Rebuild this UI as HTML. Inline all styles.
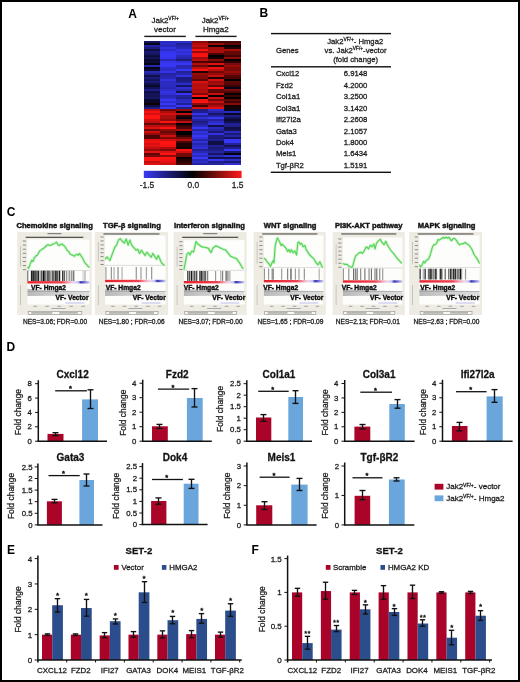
<!DOCTYPE html>
<html><head><meta charset="utf-8"><style>
html,body{margin:0;padding:0;background:#fff;}
body{width:520px;height:682px;overflow:hidden;}
svg{display:block;filter:blur(0.3px);}
text{stroke:#1a1a1a;stroke-width:0.28px;}
text.ns{stroke:none;}
</style></head><body>
<svg width="520" height="682" viewBox="0 0 520 682">
<rect width="520" height="682" fill="#fff"/>
<rect x="1" y="1" width="518" height="680" fill="none" stroke="#000" stroke-width="2"/>
<text x="128.3" y="17.7" font-family="Liberation Sans" font-size="12" font-weight="bold" fill="#000" class="ns">A</text>
<text x="259.6" y="17.2" font-family="Liberation Sans" font-size="12" font-weight="bold" fill="#000" class="ns">B</text>
<text x="6.8" y="215.8" font-family="Liberation Sans" font-size="12" font-weight="bold" fill="#000" class="ns">C</text>
<text x="6.6" y="351.3" font-family="Liberation Sans" font-size="12" font-weight="bold" fill="#000" class="ns">D</text>
<text x="6.9" y="554.3" font-family="Liberation Sans" font-size="12" font-weight="bold" fill="#000" class="ns">E</text>
<text x="251.4" y="554.3" font-family="Liberation Sans" font-size="12" font-weight="bold" fill="#000" class="ns">F</text>
<g shape-rendering="crispEdges">
<rect x="143.5" y="40.5" width="16.43" height="2.31" fill="rgb(21, 21, 94)"/>
<rect x="159.63" y="40.5" width="16.43" height="2.31" fill="rgb(43, 43, 195)"/>
<rect x="175.77" y="40.5" width="16.43" height="2.31" fill="rgb(46, 46, 207)"/>
<rect x="191.9" y="40.5" width="16.43" height="2.31" fill="rgb(140, 10, 10)"/>
<rect x="208.03" y="40.5" width="16.43" height="2.31" fill="rgb(64, 5, 5)"/>
<rect x="224.17" y="40.5" width="16.43" height="2.31" fill="rgb(70, 5, 5)"/>
<rect x="143.5" y="42.51" width="16.43" height="2.31" fill="rgb(6, 6, 27)"/>
<rect x="159.63" y="42.51" width="16.43" height="2.31" fill="rgb(44, 44, 198)"/>
<rect x="175.77" y="42.51" width="16.43" height="2.31" fill="rgb(32, 32, 145)"/>
<rect x="191.9" y="42.51" width="16.43" height="2.31" fill="rgb(178, 13, 13)"/>
<rect x="208.03" y="42.51" width="16.43" height="2.31" fill="rgb(154, 12, 12)"/>
<rect x="224.17" y="42.51" width="16.43" height="2.31" fill="rgb(97, 7, 7)"/>
<rect x="143.5" y="44.53" width="16.43" height="2.31" fill="rgb(36, 36, 163)"/>
<rect x="159.63" y="44.53" width="16.43" height="2.31" fill="rgb(41, 41, 184)"/>
<rect x="175.77" y="44.53" width="16.43" height="2.31" fill="rgb(38, 38, 171)"/>
<rect x="191.9" y="44.53" width="16.43" height="2.31" fill="rgb(195, 15, 15)"/>
<rect x="208.03" y="44.53" width="16.43" height="2.31" fill="rgb(12, 0, 0)"/>
<rect x="224.17" y="44.53" width="16.43" height="2.31" fill="rgb(2, 2, 9)"/>
<rect x="143.5" y="46.54" width="16.43" height="2.31" fill="rgb(28, 28, 125)"/>
<rect x="159.63" y="46.54" width="16.43" height="2.31" fill="rgb(51, 51, 227)"/>
<rect x="175.77" y="46.54" width="16.43" height="2.31" fill="rgb(40, 40, 181)"/>
<rect x="191.9" y="46.54" width="16.43" height="2.31" fill="rgb(158, 12, 12)"/>
<rect x="208.03" y="46.54" width="16.43" height="2.31" fill="rgb(162, 12, 12)"/>
<rect x="224.17" y="46.54" width="16.43" height="2.31" fill="rgb(41, 3, 3)"/>
<rect x="143.5" y="48.56" width="16.43" height="2.31" fill="rgb(14, 14, 66)"/>
<rect x="159.63" y="48.56" width="16.43" height="2.31" fill="rgb(44, 44, 199)"/>
<rect x="175.77" y="48.56" width="16.43" height="2.31" fill="rgb(51, 51, 228)"/>
<rect x="191.9" y="48.56" width="16.43" height="2.31" fill="rgb(255, 20, 20)"/>
<rect x="208.03" y="48.56" width="16.43" height="2.31" fill="rgb(165, 12, 12)"/>
<rect x="224.17" y="48.56" width="16.43" height="2.31" fill="rgb(166, 13, 13)"/>
<rect x="143.5" y="50.57" width="16.43" height="2.31" fill="rgb(25, 25, 112)"/>
<rect x="159.63" y="50.57" width="16.43" height="2.31" fill="rgb(53, 53, 236)"/>
<rect x="175.77" y="50.57" width="16.43" height="2.31" fill="rgb(47, 47, 212)"/>
<rect x="191.9" y="50.57" width="16.43" height="2.31" fill="rgb(154, 12, 12)"/>
<rect x="208.03" y="50.57" width="16.43" height="2.31" fill="rgb(170, 13, 13)"/>
<rect x="224.17" y="50.57" width="16.43" height="2.31" fill="rgb(101, 7, 7)"/>
<rect x="143.5" y="52.59" width="16.43" height="2.31" fill="rgb(23, 23, 103)"/>
<rect x="159.63" y="52.59" width="16.43" height="2.31" fill="rgb(54, 54, 243)"/>
<rect x="175.77" y="52.59" width="16.43" height="2.31" fill="rgb(49, 49, 221)"/>
<rect x="191.9" y="52.59" width="16.43" height="2.31" fill="rgb(244, 19, 19)"/>
<rect x="208.03" y="52.59" width="16.43" height="2.31" fill="rgb(72, 5, 5)"/>
<rect x="224.17" y="52.59" width="16.43" height="2.31" fill="rgb(101, 7, 7)"/>
<rect x="143.5" y="54.6" width="16.43" height="2.31" fill="rgb(13, 13, 60)"/>
<rect x="159.63" y="54.6" width="16.43" height="2.31" fill="rgb(55, 55, 245)"/>
<rect x="175.77" y="54.6" width="16.43" height="2.31" fill="rgb(43, 43, 193)"/>
<rect x="191.9" y="54.6" width="16.43" height="2.31" fill="rgb(250, 19, 19)"/>
<rect x="208.03" y="54.6" width="16.43" height="2.31" fill="rgb(0, 0, 2)"/>
<rect x="224.17" y="54.6" width="16.43" height="2.31" fill="rgb(63, 4, 4)"/>
<rect x="143.5" y="56.62" width="16.43" height="2.31" fill="rgb(19, 19, 86)"/>
<rect x="159.63" y="56.62" width="16.43" height="2.31" fill="rgb(53, 53, 239)"/>
<rect x="175.77" y="56.62" width="16.43" height="2.31" fill="rgb(38, 38, 171)"/>
<rect x="191.9" y="56.62" width="16.43" height="2.31" fill="rgb(157, 12, 12)"/>
<rect x="208.03" y="56.62" width="16.43" height="2.31" fill="rgb(27, 2, 2)"/>
<rect x="224.17" y="56.62" width="16.43" height="2.31" fill="rgb(141, 11, 11)"/>
<rect x="143.5" y="58.63" width="16.43" height="2.31" fill="rgb(10, 10, 48)"/>
<rect x="159.63" y="58.63" width="16.43" height="2.31" fill="rgb(40, 40, 181)"/>
<rect x="175.77" y="58.63" width="16.43" height="2.31" fill="rgb(28, 28, 125)"/>
<rect x="191.9" y="58.63" width="16.43" height="2.31" fill="rgb(186, 14, 14)"/>
<rect x="208.03" y="58.63" width="16.43" height="2.31" fill="rgb(135, 10, 10)"/>
<rect x="224.17" y="58.63" width="16.43" height="2.31" fill="rgb(0, 0, 0)"/>
<rect x="143.5" y="60.65" width="16.43" height="2.31" fill="rgb(11, 11, 51)"/>
<rect x="159.63" y="60.65" width="16.43" height="2.31" fill="rgb(52, 52, 232)"/>
<rect x="175.77" y="60.65" width="16.43" height="2.31" fill="rgb(48, 48, 218)"/>
<rect x="191.9" y="60.65" width="16.43" height="2.31" fill="rgb(75, 5, 5)"/>
<rect x="208.03" y="60.65" width="16.43" height="2.31" fill="rgb(61, 4, 4)"/>
<rect x="224.17" y="60.65" width="16.43" height="2.31" fill="rgb(48, 3, 3)"/>
<rect x="143.5" y="62.66" width="16.43" height="2.31" fill="rgb(4, 4, 18)"/>
<rect x="159.63" y="62.66" width="16.43" height="2.31" fill="rgb(55, 55, 245)"/>
<rect x="175.77" y="62.66" width="16.43" height="2.31" fill="rgb(55, 55, 245)"/>
<rect x="191.9" y="62.66" width="16.43" height="2.31" fill="rgb(177, 13, 13)"/>
<rect x="208.03" y="62.66" width="16.43" height="2.31" fill="rgb(225, 17, 17)"/>
<rect x="224.17" y="62.66" width="16.43" height="2.31" fill="rgb(124, 9, 9)"/>
<rect x="143.5" y="64.68" width="16.43" height="2.31" fill="rgb(39, 39, 174)"/>
<rect x="159.63" y="64.68" width="16.43" height="2.31" fill="rgb(55, 55, 245)"/>
<rect x="175.77" y="64.68" width="16.43" height="2.31" fill="rgb(40, 40, 178)"/>
<rect x="191.9" y="64.68" width="16.43" height="2.31" fill="rgb(111, 8, 8)"/>
<rect x="208.03" y="64.68" width="16.43" height="2.31" fill="rgb(51, 4, 4)"/>
<rect x="224.17" y="64.68" width="16.43" height="2.31" fill="rgb(151, 11, 11)"/>
<rect x="143.5" y="66.69" width="16.43" height="2.31" fill="rgb(6, 6, 27)"/>
<rect x="159.63" y="66.69" width="16.43" height="2.31" fill="rgb(46, 46, 207)"/>
<rect x="175.77" y="66.69" width="16.43" height="2.31" fill="rgb(41, 41, 183)"/>
<rect x="191.9" y="66.69" width="16.43" height="2.31" fill="rgb(191, 14, 14)"/>
<rect x="208.03" y="66.69" width="16.43" height="2.31" fill="rgb(235, 18, 18)"/>
<rect x="224.17" y="66.69" width="16.43" height="2.31" fill="rgb(127, 9, 9)"/>
<rect x="143.5" y="68.71" width="16.43" height="2.31" fill="rgb(12, 12, 56)"/>
<rect x="159.63" y="68.71" width="16.43" height="2.31" fill="rgb(43, 43, 194)"/>
<rect x="175.77" y="68.71" width="16.43" height="2.31" fill="rgb(55, 55, 245)"/>
<rect x="191.9" y="68.71" width="16.43" height="2.31" fill="rgb(248, 19, 19)"/>
<rect x="208.03" y="68.71" width="16.43" height="2.31" fill="rgb(192, 15, 15)"/>
<rect x="224.17" y="68.71" width="16.43" height="2.31" fill="rgb(121, 9, 9)"/>
<rect x="143.5" y="70.72" width="16.43" height="2.31" fill="rgb(40, 40, 178)"/>
<rect x="159.63" y="70.72" width="16.43" height="2.31" fill="rgb(52, 52, 233)"/>
<rect x="175.77" y="70.72" width="16.43" height="2.31" fill="rgb(34, 34, 154)"/>
<rect x="191.9" y="70.72" width="16.43" height="2.31" fill="rgb(38, 3, 3)"/>
<rect x="208.03" y="70.72" width="16.43" height="2.31" fill="rgb(114, 9, 9)"/>
<rect x="224.17" y="70.72" width="16.43" height="2.31" fill="rgb(154, 12, 12)"/>
<rect x="143.5" y="72.74" width="16.43" height="2.31" fill="rgb(32, 32, 145)"/>
<rect x="159.63" y="72.74" width="16.43" height="2.31" fill="rgb(35, 35, 159)"/>
<rect x="175.77" y="72.74" width="16.43" height="2.31" fill="rgb(37, 37, 168)"/>
<rect x="191.9" y="72.74" width="16.43" height="2.31" fill="rgb(151, 11, 11)"/>
<rect x="208.03" y="72.74" width="16.43" height="2.31" fill="rgb(149, 11, 11)"/>
<rect x="224.17" y="72.74" width="16.43" height="2.31" fill="rgb(129, 10, 10)"/>
<rect x="143.5" y="74.75" width="16.43" height="2.31" fill="rgb(17, 17, 75)"/>
<rect x="159.63" y="74.75" width="16.43" height="2.31" fill="rgb(39, 39, 174)"/>
<rect x="175.77" y="74.75" width="16.43" height="2.31" fill="rgb(51, 51, 228)"/>
<rect x="191.9" y="74.75" width="16.43" height="2.31" fill="rgb(133, 10, 10)"/>
<rect x="208.03" y="74.75" width="16.43" height="2.31" fill="rgb(198, 15, 15)"/>
<rect x="224.17" y="74.75" width="16.43" height="2.31" fill="rgb(86, 6, 6)"/>
<rect x="143.5" y="76.76" width="16.43" height="2.31" fill="rgb(28, 28, 124)"/>
<rect x="159.63" y="76.76" width="16.43" height="2.31" fill="rgb(40, 40, 181)"/>
<rect x="175.77" y="76.76" width="16.43" height="2.31" fill="rgb(27, 27, 124)"/>
<rect x="191.9" y="76.76" width="16.43" height="2.31" fill="rgb(131, 10, 10)"/>
<rect x="208.03" y="76.76" width="16.43" height="2.31" fill="rgb(33, 2, 2)"/>
<rect x="224.17" y="76.76" width="16.43" height="2.31" fill="rgb(75, 5, 5)"/>
<rect x="143.5" y="78.78" width="16.43" height="2.31" fill="rgb(19, 19, 88)"/>
<rect x="159.63" y="78.78" width="16.43" height="2.31" fill="rgb(49, 49, 222)"/>
<rect x="175.77" y="78.78" width="16.43" height="2.31" fill="rgb(28, 28, 127)"/>
<rect x="191.9" y="78.78" width="16.43" height="2.31" fill="rgb(91, 7, 7)"/>
<rect x="208.03" y="78.78" width="16.43" height="2.31" fill="rgb(213, 16, 16)"/>
<rect x="224.17" y="78.78" width="16.43" height="2.31" fill="rgb(0, 0, 0)"/>
<rect x="143.5" y="80.79" width="16.43" height="2.31" fill="rgb(26, 26, 120)"/>
<rect x="159.63" y="80.79" width="16.43" height="2.31" fill="rgb(43, 43, 191)"/>
<rect x="175.77" y="80.79" width="16.43" height="2.31" fill="rgb(31, 31, 140)"/>
<rect x="191.9" y="80.79" width="16.43" height="2.31" fill="rgb(219, 17, 17)"/>
<rect x="208.03" y="80.79" width="16.43" height="2.31" fill="rgb(150, 11, 11)"/>
<rect x="224.17" y="80.79" width="16.43" height="2.31" fill="rgb(94, 7, 7)"/>
<rect x="143.5" y="82.81" width="16.43" height="2.31" fill="rgb(16, 16, 74)"/>
<rect x="159.63" y="82.81" width="16.43" height="2.31" fill="rgb(43, 43, 193)"/>
<rect x="175.77" y="82.81" width="16.43" height="2.31" fill="rgb(45, 45, 204)"/>
<rect x="191.9" y="82.81" width="16.43" height="2.31" fill="rgb(180, 14, 14)"/>
<rect x="208.03" y="82.81" width="16.43" height="2.31" fill="rgb(166, 13, 13)"/>
<rect x="224.17" y="82.81" width="16.43" height="2.31" fill="rgb(85, 6, 6)"/>
<rect x="143.5" y="84.82" width="16.43" height="2.31" fill="rgb(9, 9, 44)"/>
<rect x="159.63" y="84.82" width="16.43" height="2.31" fill="rgb(43, 43, 193)"/>
<rect x="175.77" y="84.82" width="16.43" height="2.31" fill="rgb(21, 21, 97)"/>
<rect x="191.9" y="84.82" width="16.43" height="2.31" fill="rgb(183, 14, 14)"/>
<rect x="208.03" y="84.82" width="16.43" height="2.31" fill="rgb(98, 7, 7)"/>
<rect x="224.17" y="84.82" width="16.43" height="2.31" fill="rgb(59, 4, 4)"/>
<rect x="143.5" y="86.84" width="16.43" height="2.31" fill="rgb(18, 18, 82)"/>
<rect x="159.63" y="86.84" width="16.43" height="2.31" fill="rgb(40, 40, 182)"/>
<rect x="175.77" y="86.84" width="16.43" height="2.31" fill="rgb(47, 47, 212)"/>
<rect x="191.9" y="86.84" width="16.43" height="2.31" fill="rgb(187, 14, 14)"/>
<rect x="208.03" y="86.84" width="16.43" height="2.31" fill="rgb(252, 19, 19)"/>
<rect x="224.17" y="86.84" width="16.43" height="2.31" fill="rgb(5, 5, 25)"/>
<rect x="143.5" y="88.85" width="16.43" height="2.31" fill="rgb(30, 30, 136)"/>
<rect x="159.63" y="88.85" width="16.43" height="2.31" fill="rgb(45, 45, 204)"/>
<rect x="175.77" y="88.85" width="16.43" height="2.31" fill="rgb(39, 39, 176)"/>
<rect x="191.9" y="88.85" width="16.43" height="2.31" fill="rgb(177, 13, 13)"/>
<rect x="208.03" y="88.85" width="16.43" height="2.31" fill="rgb(98, 7, 7)"/>
<rect x="224.17" y="88.85" width="16.43" height="2.31" fill="rgb(129, 10, 10)"/>
<rect x="143.5" y="90.87" width="16.43" height="2.31" fill="rgb(15, 15, 67)"/>
<rect x="159.63" y="90.87" width="16.43" height="2.31" fill="rgb(51, 51, 229)"/>
<rect x="175.77" y="90.87" width="16.43" height="2.31" fill="rgb(17, 17, 76)"/>
<rect x="191.9" y="90.87" width="16.43" height="2.31" fill="rgb(185, 14, 14)"/>
<rect x="208.03" y="90.87" width="16.43" height="2.31" fill="rgb(89, 7, 7)"/>
<rect x="224.17" y="90.87" width="16.43" height="2.31" fill="rgb(78, 6, 6)"/>
<rect x="143.5" y="92.88" width="16.43" height="2.31" fill="rgb(20, 20, 92)"/>
<rect x="159.63" y="92.88" width="16.43" height="2.31" fill="rgb(48, 48, 214)"/>
<rect x="175.77" y="92.88" width="16.43" height="2.31" fill="rgb(55, 55, 245)"/>
<rect x="191.9" y="92.88" width="16.43" height="2.31" fill="rgb(128, 10, 10)"/>
<rect x="208.03" y="92.88" width="16.43" height="2.31" fill="rgb(196, 15, 15)"/>
<rect x="224.17" y="92.88" width="16.43" height="2.31" fill="rgb(5, 0, 0)"/>
<rect x="143.5" y="94.9" width="16.43" height="2.31" fill="rgb(19, 19, 84)"/>
<rect x="159.63" y="94.9" width="16.43" height="2.31" fill="rgb(40, 40, 181)"/>
<rect x="175.77" y="94.9" width="16.43" height="2.31" fill="rgb(34, 34, 154)"/>
<rect x="191.9" y="94.9" width="16.43" height="2.31" fill="rgb(255, 20, 20)"/>
<rect x="208.03" y="94.9" width="16.43" height="2.31" fill="rgb(11, 0, 0)"/>
<rect x="224.17" y="94.9" width="16.43" height="2.31" fill="rgb(60, 4, 4)"/>
<rect x="143.5" y="96.91" width="16.43" height="2.31" fill="rgb(22, 22, 98)"/>
<rect x="159.63" y="96.91" width="16.43" height="2.31" fill="rgb(43, 43, 191)"/>
<rect x="175.77" y="96.91" width="16.43" height="2.31" fill="rgb(31, 31, 142)"/>
<rect x="191.9" y="96.91" width="16.43" height="2.31" fill="rgb(1, 1, 6)"/>
<rect x="208.03" y="96.91" width="16.43" height="2.31" fill="rgb(201, 15, 15)"/>
<rect x="224.17" y="96.91" width="16.43" height="2.31" fill="rgb(0, 0, 3)"/>
<rect x="143.5" y="98.93" width="16.43" height="2.31" fill="rgb(10, 10, 48)"/>
<rect x="159.63" y="98.93" width="16.43" height="2.31" fill="rgb(55, 55, 245)"/>
<rect x="175.77" y="98.93" width="16.43" height="2.31" fill="rgb(42, 42, 187)"/>
<rect x="191.9" y="98.93" width="16.43" height="2.31" fill="rgb(242, 19, 19)"/>
<rect x="208.03" y="98.93" width="16.43" height="2.31" fill="rgb(117, 9, 9)"/>
<rect x="224.17" y="98.93" width="16.43" height="2.31" fill="rgb(97, 7, 7)"/>
<rect x="143.5" y="100.94" width="16.43" height="2.31" fill="rgb(9, 9, 42)"/>
<rect x="159.63" y="100.94" width="16.43" height="2.31" fill="rgb(46, 46, 207)"/>
<rect x="175.77" y="100.94" width="16.43" height="2.31" fill="rgb(44, 44, 200)"/>
<rect x="191.9" y="100.94" width="16.43" height="2.31" fill="rgb(255, 20, 20)"/>
<rect x="208.03" y="100.94" width="16.43" height="2.31" fill="rgb(198, 15, 15)"/>
<rect x="224.17" y="100.94" width="16.43" height="2.31" fill="rgb(65, 5, 5)"/>
<rect x="143.5" y="102.96" width="16.43" height="2.31" fill="rgb(16, 1, 1)"/>
<rect x="159.63" y="102.96" width="16.43" height="2.31" fill="rgb(55, 55, 245)"/>
<rect x="175.77" y="102.96" width="16.43" height="2.31" fill="rgb(33, 33, 151)"/>
<rect x="191.9" y="102.96" width="16.43" height="2.31" fill="rgb(143, 11, 11)"/>
<rect x="208.03" y="102.96" width="16.43" height="2.31" fill="rgb(136, 10, 10)"/>
<rect x="224.17" y="102.96" width="16.43" height="2.31" fill="rgb(132, 10, 10)"/>
<rect x="143.5" y="104.97" width="16.43" height="2.31" fill="rgb(15, 15, 70)"/>
<rect x="159.63" y="104.97" width="16.43" height="2.31" fill="rgb(42, 42, 191)"/>
<rect x="175.77" y="104.97" width="16.43" height="2.31" fill="rgb(55, 55, 245)"/>
<rect x="191.9" y="104.97" width="16.43" height="2.31" fill="rgb(58, 4, 4)"/>
<rect x="208.03" y="104.97" width="16.43" height="2.31" fill="rgb(169, 13, 13)"/>
<rect x="224.17" y="104.97" width="16.43" height="2.31" fill="rgb(19, 1, 1)"/>
<rect x="143.5" y="106.99" width="16.43" height="2.31" fill="rgb(29, 29, 131)"/>
<rect x="159.63" y="106.99" width="16.43" height="2.31" fill="rgb(55, 55, 245)"/>
<rect x="175.77" y="106.99" width="16.43" height="2.31" fill="rgb(30, 30, 133)"/>
<rect x="191.9" y="106.99" width="16.43" height="2.31" fill="rgb(212, 16, 16)"/>
<rect x="208.03" y="106.99" width="16.43" height="2.31" fill="rgb(227, 17, 17)"/>
<rect x="224.17" y="106.99" width="16.43" height="2.31" fill="rgb(21, 1, 1)"/>
<rect x="143.5" y="109" width="16.43" height="2.3" fill="rgb(195, 15, 15)"/>
<rect x="159.63" y="109" width="16.43" height="2.3" fill="rgb(109, 8, 8)"/>
<rect x="175.77" y="109" width="16.43" height="2.3" fill="rgb(145, 11, 11)"/>
<rect x="191.9" y="109" width="16.43" height="2.3" fill="rgb(29, 29, 131)"/>
<rect x="208.03" y="109" width="16.43" height="2.3" fill="rgb(46, 46, 206)"/>
<rect x="224.17" y="109" width="16.43" height="2.3" fill="rgb(7, 7, 32)"/>
<rect x="143.5" y="111" width="16.43" height="2.3" fill="rgb(245, 19, 19)"/>
<rect x="159.63" y="111" width="16.43" height="2.3" fill="rgb(174, 13, 13)"/>
<rect x="175.77" y="111" width="16.43" height="2.3" fill="rgb(2, 2, 11)"/>
<rect x="191.9" y="111" width="16.43" height="2.3" fill="rgb(31, 31, 138)"/>
<rect x="208.03" y="111" width="16.43" height="2.3" fill="rgb(37, 37, 168)"/>
<rect x="224.17" y="111" width="16.43" height="2.3" fill="rgb(42, 42, 191)"/>
<rect x="143.5" y="113" width="16.43" height="2.3" fill="rgb(215, 16, 16)"/>
<rect x="159.63" y="113" width="16.43" height="2.3" fill="rgb(214, 16, 16)"/>
<rect x="175.77" y="113" width="16.43" height="2.3" fill="rgb(195, 15, 15)"/>
<rect x="191.9" y="113" width="16.43" height="2.3" fill="rgb(53, 53, 237)"/>
<rect x="208.03" y="113" width="16.43" height="2.3" fill="rgb(24, 24, 107)"/>
<rect x="224.17" y="113" width="16.43" height="2.3" fill="rgb(8, 8, 37)"/>
<rect x="143.5" y="115" width="16.43" height="2.3" fill="rgb(255, 20, 20)"/>
<rect x="159.63" y="115" width="16.43" height="2.3" fill="rgb(174, 13, 13)"/>
<rect x="175.77" y="115" width="16.43" height="2.3" fill="rgb(42, 3, 3)"/>
<rect x="191.9" y="115" width="16.43" height="2.3" fill="rgb(34, 34, 154)"/>
<rect x="208.03" y="115" width="16.43" height="2.3" fill="rgb(35, 35, 157)"/>
<rect x="224.17" y="115" width="16.43" height="2.3" fill="rgb(30, 30, 137)"/>
<rect x="143.5" y="117" width="16.43" height="2.3" fill="rgb(255, 20, 20)"/>
<rect x="159.63" y="117" width="16.43" height="2.3" fill="rgb(169, 13, 13)"/>
<rect x="175.77" y="117" width="16.43" height="2.3" fill="rgb(4, 4, 18)"/>
<rect x="191.9" y="117" width="16.43" height="2.3" fill="rgb(47, 47, 211)"/>
<rect x="208.03" y="117" width="16.43" height="2.3" fill="rgb(55, 55, 245)"/>
<rect x="224.17" y="117" width="16.43" height="2.3" fill="rgb(19, 19, 86)"/>
<rect x="143.5" y="119" width="16.43" height="2.3" fill="rgb(211, 16, 16)"/>
<rect x="159.63" y="119" width="16.43" height="2.3" fill="rgb(145, 11, 11)"/>
<rect x="175.77" y="119" width="16.43" height="2.3" fill="rgb(92, 7, 7)"/>
<rect x="191.9" y="119" width="16.43" height="2.3" fill="rgb(36, 36, 162)"/>
<rect x="208.03" y="119" width="16.43" height="2.3" fill="rgb(35, 35, 159)"/>
<rect x="224.17" y="119" width="16.43" height="2.3" fill="rgb(11, 11, 49)"/>
<rect x="143.5" y="121" width="16.43" height="2.3" fill="rgb(192, 15, 15)"/>
<rect x="159.63" y="121" width="16.43" height="2.3" fill="rgb(255, 20, 20)"/>
<rect x="175.77" y="121" width="16.43" height="2.3" fill="rgb(194, 15, 15)"/>
<rect x="191.9" y="121" width="16.43" height="2.3" fill="rgb(29, 29, 130)"/>
<rect x="208.03" y="121" width="16.43" height="2.3" fill="rgb(44, 44, 196)"/>
<rect x="224.17" y="121" width="16.43" height="2.3" fill="rgb(18, 18, 82)"/>
<rect x="143.5" y="123" width="16.43" height="2.3" fill="rgb(99, 7, 7)"/>
<rect x="159.63" y="123" width="16.43" height="2.3" fill="rgb(113, 8, 8)"/>
<rect x="175.77" y="123" width="16.43" height="2.3" fill="rgb(2, 2, 11)"/>
<rect x="191.9" y="123" width="16.43" height="2.3" fill="rgb(34, 34, 152)"/>
<rect x="208.03" y="123" width="16.43" height="2.3" fill="rgb(50, 50, 223)"/>
<rect x="224.17" y="123" width="16.43" height="2.3" fill="rgb(33, 33, 147)"/>
<rect x="143.5" y="125" width="16.43" height="2.3" fill="rgb(185, 14, 14)"/>
<rect x="159.63" y="125" width="16.43" height="2.3" fill="rgb(185, 14, 14)"/>
<rect x="175.77" y="125" width="16.43" height="2.3" fill="rgb(53, 4, 4)"/>
<rect x="191.9" y="125" width="16.43" height="2.3" fill="rgb(41, 41, 186)"/>
<rect x="208.03" y="125" width="16.43" height="2.3" fill="rgb(16, 16, 75)"/>
<rect x="224.17" y="125" width="16.43" height="2.3" fill="rgb(32, 32, 143)"/>
<rect x="143.5" y="127" width="16.43" height="2.3" fill="rgb(222, 17, 17)"/>
<rect x="159.63" y="127" width="16.43" height="2.3" fill="rgb(255, 20, 20)"/>
<rect x="175.77" y="127" width="16.43" height="2.3" fill="rgb(80, 6, 6)"/>
<rect x="191.9" y="127" width="16.43" height="2.3" fill="rgb(55, 55, 245)"/>
<rect x="208.03" y="127" width="16.43" height="2.3" fill="rgb(42, 42, 190)"/>
<rect x="224.17" y="127" width="16.43" height="2.3" fill="rgb(15, 15, 68)"/>
<rect x="143.5" y="129" width="16.43" height="2.3" fill="rgb(111, 8, 8)"/>
<rect x="159.63" y="129" width="16.43" height="2.3" fill="rgb(146, 11, 11)"/>
<rect x="175.77" y="129" width="16.43" height="2.3" fill="rgb(162, 12, 12)"/>
<rect x="191.9" y="129" width="16.43" height="2.3" fill="rgb(36, 36, 163)"/>
<rect x="208.03" y="129" width="16.43" height="2.3" fill="rgb(36, 36, 162)"/>
<rect x="224.17" y="129" width="16.43" height="2.3" fill="rgb(19, 19, 87)"/>
<rect x="143.5" y="131" width="16.43" height="2.3" fill="rgb(203, 15, 15)"/>
<rect x="159.63" y="131" width="16.43" height="2.3" fill="rgb(106, 8, 8)"/>
<rect x="175.77" y="131" width="16.43" height="2.3" fill="rgb(0, 0, 3)"/>
<rect x="191.9" y="131" width="16.43" height="2.3" fill="rgb(49, 49, 222)"/>
<rect x="208.03" y="131" width="16.43" height="2.3" fill="rgb(26, 26, 118)"/>
<rect x="224.17" y="131" width="16.43" height="2.3" fill="rgb(42, 42, 188)"/>
<rect x="143.5" y="133" width="16.43" height="2.3" fill="rgb(149, 11, 11)"/>
<rect x="159.63" y="133" width="16.43" height="2.3" fill="rgb(134, 10, 10)"/>
<rect x="175.77" y="133" width="16.43" height="2.3" fill="rgb(0, 0, 3)"/>
<rect x="191.9" y="133" width="16.43" height="2.3" fill="rgb(45, 45, 200)"/>
<rect x="208.03" y="133" width="16.43" height="2.3" fill="rgb(49, 49, 221)"/>
<rect x="224.17" y="133" width="16.43" height="2.3" fill="rgb(26, 26, 120)"/>
<rect x="143.5" y="135" width="16.43" height="2.3" fill="rgb(75, 5, 5)"/>
<rect x="159.63" y="135" width="16.43" height="2.3" fill="rgb(209, 16, 16)"/>
<rect x="175.77" y="135" width="16.43" height="2.3" fill="rgb(49, 3, 3)"/>
<rect x="191.9" y="135" width="16.43" height="2.3" fill="rgb(55, 55, 245)"/>
<rect x="208.03" y="135" width="16.43" height="2.3" fill="rgb(28, 28, 127)"/>
<rect x="224.17" y="135" width="16.43" height="2.3" fill="rgb(37, 37, 167)"/>
<rect x="143.5" y="137" width="16.43" height="2.3" fill="rgb(81, 6, 6)"/>
<rect x="159.63" y="137" width="16.43" height="2.3" fill="rgb(127, 9, 9)"/>
<rect x="175.77" y="137" width="16.43" height="2.3" fill="rgb(113, 8, 8)"/>
<rect x="191.9" y="137" width="16.43" height="2.3" fill="rgb(48, 48, 214)"/>
<rect x="208.03" y="137" width="16.43" height="2.3" fill="rgb(28, 28, 125)"/>
<rect x="224.17" y="137" width="16.43" height="2.3" fill="rgb(20, 20, 92)"/>
<rect x="143.5" y="139" width="16.43" height="2.3" fill="rgb(229, 17, 17)"/>
<rect x="159.63" y="139" width="16.43" height="2.3" fill="rgb(209, 16, 16)"/>
<rect x="175.77" y="139" width="16.43" height="2.3" fill="rgb(184, 14, 14)"/>
<rect x="191.9" y="139" width="16.43" height="2.3" fill="rgb(37, 37, 169)"/>
<rect x="208.03" y="139" width="16.43" height="2.3" fill="rgb(31, 31, 141)"/>
<rect x="224.17" y="139" width="16.43" height="2.3" fill="rgb(55, 55, 245)"/>
<rect x="143.5" y="141" width="16.43" height="2.3" fill="rgb(241, 18, 18)"/>
<rect x="159.63" y="141" width="16.43" height="2.3" fill="rgb(255, 20, 20)"/>
<rect x="175.77" y="141" width="16.43" height="2.3" fill="rgb(73, 5, 5)"/>
<rect x="191.9" y="141" width="16.43" height="2.3" fill="rgb(48, 48, 215)"/>
<rect x="208.03" y="141" width="16.43" height="2.3" fill="rgb(15, 15, 68)"/>
<rect x="224.17" y="141" width="16.43" height="2.3" fill="rgb(55, 55, 245)"/>
<rect x="143.5" y="143" width="16.43" height="2.3" fill="rgb(219, 17, 17)"/>
<rect x="159.63" y="143" width="16.43" height="2.3" fill="rgb(255, 20, 20)"/>
<rect x="175.77" y="143" width="16.43" height="2.3" fill="rgb(30, 2, 2)"/>
<rect x="191.9" y="143" width="16.43" height="2.3" fill="rgb(37, 37, 167)"/>
<rect x="208.03" y="143" width="16.43" height="2.3" fill="rgb(15, 15, 70)"/>
<rect x="224.17" y="143" width="16.43" height="2.3" fill="rgb(34, 34, 155)"/>
<rect x="143.5" y="145" width="16.43" height="2.3" fill="rgb(224, 17, 17)"/>
<rect x="159.63" y="145" width="16.43" height="2.3" fill="rgb(248, 19, 19)"/>
<rect x="175.77" y="145" width="16.43" height="2.3" fill="rgb(31, 2, 2)"/>
<rect x="191.9" y="145" width="16.43" height="2.3" fill="rgb(44, 44, 199)"/>
<rect x="208.03" y="145" width="16.43" height="2.3" fill="rgb(33, 33, 148)"/>
<rect x="224.17" y="145" width="16.43" height="2.3" fill="rgb(19, 19, 86)"/>
<rect x="143.5" y="147" width="16.43" height="2.3" fill="rgb(193, 15, 15)"/>
<rect x="159.63" y="147" width="16.43" height="2.3" fill="rgb(173, 13, 13)"/>
<rect x="175.77" y="147" width="16.43" height="2.3" fill="rgb(24, 1, 1)"/>
<rect x="191.9" y="147" width="16.43" height="2.3" fill="rgb(47, 47, 210)"/>
<rect x="208.03" y="147" width="16.43" height="2.3" fill="rgb(26, 26, 119)"/>
<rect x="224.17" y="147" width="16.43" height="2.3" fill="rgb(31, 31, 139)"/>
<rect x="143.5" y="149" width="16.43" height="2.3" fill="rgb(151, 11, 11)"/>
<rect x="159.63" y="149" width="16.43" height="2.3" fill="rgb(129, 10, 10)"/>
<rect x="175.77" y="149" width="16.43" height="2.3" fill="rgb(255, 20, 20)"/>
<rect x="191.9" y="149" width="16.43" height="2.3" fill="rgb(33, 33, 149)"/>
<rect x="208.03" y="149" width="16.43" height="2.3" fill="rgb(29, 29, 132)"/>
<rect x="224.17" y="149" width="16.43" height="2.3" fill="rgb(55, 55, 245)"/>
<rect x="143.5" y="151" width="16.43" height="2.3" fill="rgb(227, 17, 17)"/>
<rect x="159.63" y="151" width="16.43" height="2.3" fill="rgb(219, 17, 17)"/>
<rect x="175.77" y="151" width="16.43" height="2.3" fill="rgb(208, 16, 16)"/>
<rect x="191.9" y="151" width="16.43" height="2.3" fill="rgb(40, 40, 178)"/>
<rect x="208.03" y="151" width="16.43" height="2.3" fill="rgb(37, 37, 166)"/>
<rect x="224.17" y="151" width="16.43" height="2.3" fill="rgb(24, 24, 108)"/>
<rect x="143.5" y="153" width="16.43" height="2.3" fill="rgb(96, 7, 7)"/>
<rect x="159.63" y="153" width="16.43" height="2.3" fill="rgb(255, 20, 20)"/>
<rect x="175.77" y="153" width="16.43" height="2.3" fill="rgb(115, 9, 9)"/>
<rect x="191.9" y="153" width="16.43" height="2.3" fill="rgb(50, 50, 224)"/>
<rect x="208.03" y="153" width="16.43" height="2.3" fill="rgb(22, 22, 98)"/>
<rect x="224.17" y="153" width="16.43" height="2.3" fill="rgb(3, 3, 14)"/>
<rect x="143.5" y="155" width="16.43" height="2.3" fill="rgb(123, 9, 9)"/>
<rect x="159.63" y="155" width="16.43" height="2.3" fill="rgb(141, 11, 11)"/>
<rect x="175.77" y="155" width="16.43" height="2.3" fill="rgb(113, 8, 8)"/>
<rect x="191.9" y="155" width="16.43" height="2.3" fill="rgb(42, 42, 188)"/>
<rect x="208.03" y="155" width="16.43" height="2.3" fill="rgb(41, 41, 182)"/>
<rect x="224.17" y="155" width="16.43" height="2.3" fill="rgb(49, 49, 218)"/>
<rect x="143.5" y="157" width="16.43" height="2.3" fill="rgb(255, 20, 20)"/>
<rect x="159.63" y="157" width="16.43" height="2.3" fill="rgb(255, 20, 20)"/>
<rect x="175.77" y="157" width="16.43" height="2.3" fill="rgb(12, 0, 0)"/>
<rect x="191.9" y="157" width="16.43" height="2.3" fill="rgb(55, 55, 245)"/>
<rect x="208.03" y="157" width="16.43" height="2.3" fill="rgb(17, 17, 79)"/>
<rect x="224.17" y="157" width="16.43" height="2.3" fill="rgb(16, 16, 74)"/>
<rect x="143.5" y="159" width="16.43" height="2.3" fill="rgb(255, 20, 20)"/>
<rect x="159.63" y="159" width="16.43" height="2.3" fill="rgb(242, 18, 18)"/>
<rect x="175.77" y="159" width="16.43" height="2.3" fill="rgb(34, 2, 2)"/>
<rect x="191.9" y="159" width="16.43" height="2.3" fill="rgb(41, 41, 185)"/>
<rect x="208.03" y="159" width="16.43" height="2.3" fill="rgb(55, 55, 245)"/>
<rect x="224.17" y="159" width="16.43" height="2.3" fill="rgb(45, 45, 201)"/>
<rect x="143.5" y="161" width="16.43" height="2.3" fill="rgb(192, 15, 15)"/>
<rect x="159.63" y="161" width="16.43" height="2.3" fill="rgb(222, 17, 17)"/>
<rect x="175.77" y="161" width="16.43" height="2.3" fill="rgb(44, 3, 3)"/>
<rect x="191.9" y="161" width="16.43" height="2.3" fill="rgb(45, 45, 201)"/>
<rect x="208.03" y="161" width="16.43" height="2.3" fill="rgb(31, 31, 140)"/>
<rect x="224.17" y="161" width="16.43" height="2.3" fill="rgb(26, 26, 119)"/>
<rect x="143.5" y="163" width="16.43" height="2.3" fill="rgb(228, 17, 17)"/>
<rect x="159.63" y="163" width="16.43" height="2.3" fill="rgb(201, 15, 15)"/>
<rect x="175.77" y="163" width="16.43" height="2.3" fill="rgb(71, 5, 5)"/>
<rect x="191.9" y="163" width="16.43" height="2.3" fill="rgb(36, 36, 163)"/>
<rect x="208.03" y="163" width="16.43" height="2.3" fill="rgb(36, 36, 160)"/>
<rect x="224.17" y="163" width="16.43" height="2.3" fill="rgb(46, 46, 207)"/>
</g>
<defs><linearGradient id="cb" x1="0" x2="1" y1="0" y2="0"><stop offset="0" stop-color="#3a3af5"/><stop offset="0.5" stop-color="#000"/><stop offset="1" stop-color="#ff1a1a"/></linearGradient></defs>
<rect x="143.8" y="170.8" width="97.8" height="7.2" fill="url(#cb)"/>
<text x="147" y="188.3" font-family="Liberation Sans" font-size="8.4" fill="#2a2a2a" text-anchor="middle">-1.5</text>
<text x="193.3" y="188.3" font-family="Liberation Sans" font-size="8.4" fill="#2a2a2a" text-anchor="middle">0.0</text>
<text x="237.7" y="188.3" font-family="Liberation Sans" font-size="8.4" fill="#2a2a2a" text-anchor="middle">1.5</text>
<text x="165.2" y="23.2" font-family="Liberation Sans" font-size="8" fill="#222" text-anchor="middle">Jak2<tspan font-size="4.96" dy="-3">VF/+</tspan><tspan dy="3"></tspan></text>
<text x="165" y="32.3" font-family="Liberation Sans" font-size="8" fill="#222" text-anchor="middle">vector</text>
<text x="215.4" y="23.2" font-family="Liberation Sans" font-size="8" fill="#222" text-anchor="middle">Jak2<tspan font-size="4.96" dy="-3">VF/+</tspan><tspan dy="3"></tspan></text>
<text x="215.8" y="32.3" font-family="Liberation Sans" font-size="8" fill="#222" text-anchor="middle">Hmga2</text>
<rect x="144.3" y="35.7" width="41.5" height="1.4" fill="#1a1a1a"/>
<rect x="195.4" y="35.7" width="41.2" height="1.4" fill="#1a1a1a"/>
<rect x="271" y="32.9" width="120" height="1.4" fill="#111"/>
<rect x="271" y="66.1" width="120" height="1.4" fill="#111"/>
<rect x="270.8" y="171.6" width="120.2" height="1.4" fill="#111"/>
<text x="355.2" y="43.6" font-family="Liberation Sans" font-size="7.7" fill="#222" text-anchor="middle">Jak2<tspan font-size="4.8" dy="-2.8">VF/+</tspan><tspan dy="2.8">- Hmga2</tspan></text>
<text x="355.6" y="52.8" font-family="Liberation Sans" font-size="7.7" fill="#222" text-anchor="middle">vs. Jak2<tspan font-size="4.8" dy="-2.8">VF/+</tspan><tspan dy="2.8">-vector</tspan></text>
<text x="355.6" y="62" font-family="Liberation Sans" font-size="7.7" fill="#222" text-anchor="middle">(fold change)</text>
<text x="276" y="53.2" font-family="Liberation Sans" font-size="7.7" fill="#222">Genes</text>
<text x="275.9" y="76.3" font-family="Liberation Sans" font-size="7.7" fill="#222">Cxcl12</text>
<text x="355.5" y="76.3" font-family="Liberation Sans" font-size="7.7" fill="#222" text-anchor="middle">6.9148</text>
<text x="275.9" y="87.75" font-family="Liberation Sans" font-size="7.7" fill="#222">Fzd2</text>
<text x="355.5" y="87.75" font-family="Liberation Sans" font-size="7.7" fill="#222" text-anchor="middle">4.2000</text>
<text x="275.9" y="99.2" font-family="Liberation Sans" font-size="7.7" fill="#222">Col1a1</text>
<text x="355.5" y="99.2" font-family="Liberation Sans" font-size="7.7" fill="#222" text-anchor="middle">3.2500</text>
<text x="275.9" y="110.65" font-family="Liberation Sans" font-size="7.7" fill="#222">Col3a1</text>
<text x="355.5" y="110.65" font-family="Liberation Sans" font-size="7.7" fill="#222" text-anchor="middle">3.1420</text>
<text x="275.9" y="122.1" font-family="Liberation Sans" font-size="7.7" fill="#222">Ifi27l2a</text>
<text x="355.5" y="122.1" font-family="Liberation Sans" font-size="7.7" fill="#222" text-anchor="middle">2.2608</text>
<text x="275.9" y="133.55" font-family="Liberation Sans" font-size="7.7" fill="#222">Gata3</text>
<text x="355.5" y="133.55" font-family="Liberation Sans" font-size="7.7" fill="#222" text-anchor="middle">2.1057</text>
<text x="275.9" y="145" font-family="Liberation Sans" font-size="7.7" fill="#222">Dok4</text>
<text x="355.5" y="145" font-family="Liberation Sans" font-size="7.7" fill="#222" text-anchor="middle">1.8000</text>
<text x="275.9" y="156.45" font-family="Liberation Sans" font-size="7.7" fill="#222">Meis1</text>
<text x="355.5" y="156.45" font-family="Liberation Sans" font-size="7.7" fill="#222" text-anchor="middle">1.6434</text>
<text x="275.9" y="167.9" font-family="Liberation Sans" font-size="7.7" fill="#222">Tgf-βR2</text>
<text x="355.5" y="167.9" font-family="Liberation Sans" font-size="7.7" fill="#222" text-anchor="middle">1.5191</text>
<text x="54.6" y="228" font-family="Liberation Sans" font-size="7.6" font-weight="bold" fill="#111" text-anchor="middle" style="stroke-width:0.45px">Chemokine signaling</text>
<text x="55.0" y="323.8" font-family="Liberation Sans" font-size="6.6" fill="#222" text-anchor="middle">NES=3.06; FDR=0.00</text>
<rect x="17.2" y="232.0" width="74.6" height="83.0" fill="#eeece2"/>
<rect x="47.5" y="233.1" width="14" height="1.1" fill="#777"/>
<rect x="25.7" y="236.7" width="57.6" height="1.3" fill="#555"/>
<rect x="27.4" y="239.5" width="62" height="65" fill="#fdfdfb"/>
<rect x="22.8" y="240.5" width="3.2" height="1" fill="#8a8a8a"/>
<rect x="22.8" y="244.6" width="3.2" height="1" fill="#8a8a8a"/>
<rect x="22.8" y="248.7" width="3.2" height="1" fill="#8a8a8a"/>
<rect x="22.8" y="252.8" width="3.2" height="1" fill="#8a8a8a"/>
<rect x="22.8" y="256.9" width="3.2" height="1" fill="#8a8a8a"/>
<rect x="22.8" y="261" width="3.2" height="1" fill="#8a8a8a"/>
<rect x="22.8" y="265.1" width="3.2" height="1" fill="#8a8a8a"/>
<rect x="22.8" y="269.2" width="3.2" height="1" fill="#8a8a8a"/>
<rect x="20.2" y="246" width="0.8" height="20.7" fill="#bbb"/>
<rect x="20.2" y="285" width="0.8" height="20" fill="#bbb"/>
<rect x="27.4" y="270.1" width="62" height="0.6" fill="#c8c8c8"/>
<polyline points="27.4,267.02 28.64,268.24 29.88,264.87 31.74,260.26 32.98,261.49 34.22,258.11 35.46,256.27 37.32,255.35 38.56,252.89 39.8,250.75 41.04,250.13 42.28,248.9 44.14,247.98 45.38,246.75 46.62,245.53 47.86,244.6 49.72,245.53 50.96,245.22 52.2,244.3 53.44,243.99 54.68,243.38 56.54,242.15 57.78,244.6 59.02,245.53 60.26,244.6 62.12,243.99 63.36,245.22 64.6,246.14 65.84,247.98 67.08,250.13 68.94,251.97 70.18,254.12 71.42,254.74 72.66,255.35 74.52,256.27 75.76,254.74 77,254.12 78.24,255.35 79.48,253.51 81.34,256.27 82.58,258.11 83.82,260.88 85.06,263.02 86.92,264.87 88.16,266.4 89.4,267.63" fill="none" stroke="#cdf3cd" stroke-width="2.8" stroke-linejoin="round"/>
<polyline points="27.4,267.02 28.64,268.24 29.88,264.87 31.74,260.26 32.98,261.49 34.22,258.11 35.46,256.27 37.32,255.35 38.56,252.89 39.8,250.75 41.04,250.13 42.28,248.9 44.14,247.98 45.38,246.75 46.62,245.53 47.86,244.6 49.72,245.53 50.96,245.22 52.2,244.3 53.44,243.99 54.68,243.38 56.54,242.15 57.78,244.6 59.02,245.53 60.26,244.6 62.12,243.99 63.36,245.22 64.6,246.14 65.84,247.98 67.08,250.13 68.94,251.97 70.18,254.12 71.42,254.74 72.66,255.35 74.52,256.27 75.76,254.74 77,254.12 78.24,255.35 79.48,253.51 81.34,256.27 82.58,258.11 83.82,260.88 85.06,263.02 86.92,264.87 88.16,266.4 89.4,267.63" fill="none" stroke="#52d452" stroke-width="1.1" stroke-linejoin="round"/>
<rect x="27.4" y="270.7" width="0.84" height="10.3" fill="rgb(60,60,60)"/>
<rect x="30.87" y="270.7" width="1.67" height="10.3" fill="rgb(30,30,30)"/>
<rect x="32.61" y="270.7" width="1.25" height="10.3" fill="rgb(10,10,10)"/>
<rect x="34.34" y="270.7" width="1.36" height="10.3" fill="rgb(0,0,0)"/>
<rect x="36.08" y="270.7" width="1.68" height="10.3" fill="rgb(90,90,90)"/>
<rect x="37.82" y="270.7" width="1.08" height="10.3" fill="rgb(10,10,10)"/>
<rect x="39.55" y="270.7" width="1.1" height="10.3" fill="rgb(130,130,130)"/>
<rect x="41.29" y="270.7" width="1.19" height="10.3" fill="rgb(30,30,30)"/>
<rect x="43.02" y="270.7" width="1.67" height="10.3" fill="rgb(10,10,10)"/>
<rect x="44.76" y="270.7" width="1.03" height="10.3" fill="rgb(90,90,90)"/>
<rect x="46.5" y="270.7" width="1.62" height="10.3" fill="rgb(90,90,90)"/>
<rect x="48.23" y="270.7" width="1.44" height="10.3" fill="rgb(60,60,60)"/>
<rect x="49.97" y="270.7" width="0.8" height="10.3" fill="rgb(130,130,130)"/>
<rect x="51.7" y="270.7" width="1.02" height="10.3" fill="rgb(30,30,30)"/>
<rect x="53.44" y="270.7" width="0.97" height="10.3" fill="rgb(0,0,0)"/>
<rect x="55.18" y="270.7" width="1.52" height="10.3" fill="rgb(10,10,10)"/>
<rect x="56.91" y="270.7" width="1.2" height="10.3" fill="rgb(90,90,90)"/>
<rect x="58.65" y="270.7" width="1.59" height="10.3" fill="rgb(30,30,30)"/>
<rect x="62.12" y="270.7" width="1.3" height="10.3" fill="rgb(30,30,30)"/>
<rect x="63.86" y="270.7" width="1.1" height="10.3" fill="rgb(90,90,90)"/>
<rect x="65.84" y="270.7" width="1.2" height="10.3" fill="rgb(150,150,150)"/>
<rect x="67.58" y="270.7" width="1.09" height="10.3" fill="rgb(180,180,180)"/>
<rect x="69.31" y="270.7" width="0.97" height="10.3" fill="rgb(120,120,120)"/>
<rect x="71.05" y="270.7" width="1.23" height="10.3" fill="rgb(150,150,150)"/>
<rect x="72.78" y="270.7" width="1.59" height="10.3" fill="rgb(120,120,120)"/>
<rect x="82.46" y="270.7" width="1.27" height="10.3" fill="rgb(210,210,210)"/>
<rect x="84.19" y="270.7" width="1.61" height="10.3" fill="rgb(190,190,190)"/>
<defs><linearGradient id="rs0" x1="0" x2="1"><stop offset="0" stop-color="#e8202a"/><stop offset="0.55" stop-color="#ee4050"/><stop offset="0.68" stop-color="#f4b0c0"/><stop offset="0.75" stop-color="#e8d8f0"/><stop offset="0.82" stop-color="#c8c0f0"/><stop offset="0.86" stop-color="#3a30b0"/><stop offset="0.92" stop-color="#7070d8"/><stop offset="1" stop-color="#d0d0f4"/></linearGradient></defs>
<rect x="27.4" y="281.1" width="62" height="2.4" fill="url(#rs0)"/>
<defs><linearGradient id="gg0" x1="0" x2="1"><stop offset="0" stop-color="#b8b8b8"/><stop offset="0.5" stop-color="#d0d0d0"/><stop offset="1" stop-color="#dedede"/></linearGradient></defs>
<polygon points="27.4,288.8 46,290.3 83.2,291.0 89.4,291.2 89.4,295.6 27.4,296" fill="url(#gg0)"/>
<rect x="27.4" y="291.2" width="62" height="0.6" fill="#999"/>
<text x="31" y="289.5" font-family="Liberation Sans" font-size="6.7" font-weight="bold" fill="#000" style="stroke-width:0.4px">VF- Hmga2</text>
<text x="88.5" y="300.2" font-family="Liberation Sans" font-size="6.7" font-weight="bold" fill="#000" text-anchor="end" style="stroke-width:0.4px">VF- Vector</text>
<rect x="65.4" y="302.6" width="19" height="0.8" fill="#a8a8e6"/>
<rect x="33.4" y="305.8" width="3.5" height="0.9" fill="#999"/>
<rect x="45.4" y="305.8" width="3.5" height="0.9" fill="#999"/>
<rect x="57.4" y="305.8" width="3.5" height="0.9" fill="#999"/>
<rect x="69.4" y="305.8" width="3.5" height="0.9" fill="#999"/>
<rect x="81.4" y="305.8" width="3.5" height="0.9" fill="#999"/>
<rect x="51.4" y="308.2" width="14" height="0.8" fill="#999"/>
<rect x="28.2" y="311.3" width="53.6" height="3.2" fill="#f8f7f2" stroke="#8a8a8a" stroke-width="0.6"/>
<rect x="31.2" y="312.5" width="20.97" height="0.9" fill="#777"/>
<rect x="59.16" y="312.5" width="18.64" height="0.9" fill="#777"/>
<text x="131.9" y="228" font-family="Liberation Sans" font-size="7.6" font-weight="bold" fill="#111" text-anchor="middle" style="stroke-width:0.45px">TGF-β signaling</text>
<text x="131.7" y="323.8" font-family="Liberation Sans" font-size="6.6" fill="#222" text-anchor="middle">NES=1.80 ; FDR=0.06</text>
<rect x="94.9" y="232.0" width="73.1" height="83.0" fill="#eeece2"/>
<rect x="103.4" y="233.3" width="56.1" height="1.3" fill="#666"/>
<rect x="105.1" y="235.5" width="60.5" height="69" fill="#fdfdfb"/>
<rect x="100.5" y="236.5" width="3.2" height="1" fill="#8a8a8a"/>
<rect x="100.5" y="240.43" width="3.2" height="1" fill="#8a8a8a"/>
<rect x="100.5" y="244.36" width="3.2" height="1" fill="#8a8a8a"/>
<rect x="100.5" y="248.29" width="3.2" height="1" fill="#8a8a8a"/>
<rect x="100.5" y="252.21" width="3.2" height="1" fill="#8a8a8a"/>
<rect x="100.5" y="256.14" width="3.2" height="1" fill="#8a8a8a"/>
<rect x="100.5" y="260.07" width="3.2" height="1" fill="#8a8a8a"/>
<rect x="100.5" y="264" width="3.2" height="1" fill="#8a8a8a"/>
<rect x="97.9" y="242" width="0.8" height="19.5" fill="#bbb"/>
<rect x="97.9" y="285" width="0.8" height="20" fill="#bbb"/>
<rect x="105.1" y="264.9" width="60.5" height="0.6" fill="#c8c8c8"/>
<polyline points="105.1,259.31 106.92,256.94 109.94,260.49 114.78,247.21 116.59,245.15 118.41,240.13 120.23,238.66 122.04,241.01 124.46,243.08 126.28,238.95 128.09,245.15 129.91,240.13 131.72,245.15 135.96,250.16 137.77,249.28 139.59,253.41 141.4,250.16 145.03,255.47 146.84,252.22 151.08,257.24 152.89,253.41 156.53,259.31 158.34,255.47 161.37,262.55 164.39,265.5" fill="none" stroke="#cdf3cd" stroke-width="2.8" stroke-linejoin="round"/>
<polyline points="105.1,259.31 106.92,256.94 109.94,260.49 114.78,247.21 116.59,245.15 118.41,240.13 120.23,238.66 122.04,241.01 124.46,243.08 126.28,238.95 128.09,245.15 129.91,240.13 131.72,245.15 135.96,250.16 137.77,249.28 139.59,253.41 141.4,250.16 145.03,255.47 146.84,252.22 151.08,257.24 152.89,253.41 156.53,259.31 158.34,255.47 161.37,262.55 164.39,265.5" fill="none" stroke="#52d452" stroke-width="1.1" stroke-linejoin="round"/>
<rect x="105.4" y="267" width="1.1" height="12.5" fill="rgb(150,150,150)"/>
<rect x="110.79" y="267" width="1.1" height="12.5" fill="rgb(140,140,140)"/>
<rect x="113.51" y="267" width="1.1" height="12.5" fill="rgb(170,170,170)"/>
<rect x="117.5" y="267" width="1.1" height="12.5" fill="rgb(130,130,130)"/>
<rect x="121.5" y="267" width="1.1" height="12.5" fill="rgb(170,170,170)"/>
<rect x="135.71" y="267" width="1.1" height="12.5" fill="rgb(140,140,140)"/>
<rect x="140.43" y="267" width="1.1" height="12.5" fill="rgb(150,150,150)"/>
<rect x="145.82" y="267" width="1.1" height="12.5" fill="rgb(160,160,160)"/>
<rect x="151.14" y="267" width="1.1" height="12.5" fill="rgb(140,140,140)"/>
<defs><linearGradient id="rs1" x1="0" x2="1"><stop offset="0" stop-color="#e8202a"/><stop offset="0.55" stop-color="#ee4050"/><stop offset="0.68" stop-color="#f4b0c0"/><stop offset="0.75" stop-color="#e8d8f0"/><stop offset="0.82" stop-color="#c8c0f0"/><stop offset="0.86" stop-color="#3a30b0"/><stop offset="0.92" stop-color="#7070d8"/><stop offset="1" stop-color="#d0d0f4"/></linearGradient></defs>
<rect x="105.1" y="279.8" width="60.5" height="2.4" fill="url(#rs1)"/>
<defs><linearGradient id="gg1" x1="0" x2="1"><stop offset="0" stop-color="#b8b8b8"/><stop offset="0.5" stop-color="#d0d0d0"/><stop offset="1" stop-color="#dedede"/></linearGradient></defs>
<polygon points="105.1,288.8 123.25,290.3 159.55,291.0 165.6,291.2 165.6,295.6 105.1,296" fill="url(#gg1)"/>
<rect x="105.1" y="291.2" width="60.5" height="0.6" fill="#999"/>
<text x="105.7" y="289.5" font-family="Liberation Sans" font-size="6.7" font-weight="bold" fill="#000" style="stroke-width:0.4px">VF- Hmga2</text>
<text x="165.8" y="300.2" font-family="Liberation Sans" font-size="6.7" font-weight="bold" fill="#000" text-anchor="end" style="stroke-width:0.4px">VF- Vector</text>
<rect x="141.6" y="302.6" width="19" height="0.8" fill="#a8a8e6"/>
<rect x="111.1" y="305.8" width="3.5" height="0.9" fill="#999"/>
<rect x="122.77" y="305.8" width="3.5" height="0.9" fill="#999"/>
<rect x="134.43" y="305.8" width="3.5" height="0.9" fill="#999"/>
<rect x="146.1" y="305.8" width="3.5" height="0.9" fill="#999"/>
<rect x="157.77" y="305.8" width="3.5" height="0.9" fill="#999"/>
<rect x="128.35" y="308.2" width="14" height="0.8" fill="#999"/>
<rect x="105.9" y="311.3" width="52.1" height="3.2" fill="#f8f7f2" stroke="#8a8a8a" stroke-width="0.6"/>
<rect x="108.9" y="312.5" width="20.29" height="0.9" fill="#777"/>
<rect x="135.96" y="312.5" width="18.04" height="0.9" fill="#777"/>
<text x="209.5" y="228" font-family="Liberation Sans" font-size="7.6" font-weight="bold" fill="#111" text-anchor="middle" style="stroke-width:0.45px">Interferon signaling</text>
<text x="210.5" y="323.8" font-family="Liberation Sans" font-size="6.6" fill="#222" text-anchor="middle">NES=3.07; FDR=0.00</text>
<rect x="173.7" y="232.0" width="73" height="83.0" fill="#eeece2"/>
<rect x="203.2" y="233.1" width="14" height="1.1" fill="#777"/>
<rect x="182.2" y="236.7" width="56" height="1.3" fill="#555"/>
<rect x="183.9" y="240.2" width="60.4" height="64.3" fill="#fdfdfb"/>
<rect x="179.3" y="241.2" width="3.2" height="1" fill="#8a8a8a"/>
<rect x="179.3" y="245.17" width="3.2" height="1" fill="#8a8a8a"/>
<rect x="179.3" y="249.14" width="3.2" height="1" fill="#8a8a8a"/>
<rect x="179.3" y="253.11" width="3.2" height="1" fill="#8a8a8a"/>
<rect x="179.3" y="257.09" width="3.2" height="1" fill="#8a8a8a"/>
<rect x="179.3" y="261.06" width="3.2" height="1" fill="#8a8a8a"/>
<rect x="179.3" y="265.03" width="3.2" height="1" fill="#8a8a8a"/>
<rect x="179.3" y="269" width="3.2" height="1" fill="#8a8a8a"/>
<rect x="176.7" y="246.7" width="0.8" height="19.8" fill="#bbb"/>
<rect x="176.7" y="285" width="0.8" height="20" fill="#bbb"/>
<rect x="183.9" y="269.9" width="60.4" height="0.6" fill="#c8c8c8"/>
<polyline points="183.9,269.9 186.92,254.11 188.73,252.62 189.94,255 191.75,251.13 193.56,252.02 195.98,241.59 198.4,244.28 201.42,246.66 204.44,247.26 208.06,248.15 211.08,252.62 212.89,248.15 215.91,245.77 218.93,247.26 223.16,249.34 225.58,249.94 230.41,256.2 233.43,257.39 236.45,258.58 240.07,263.65 243.09,269.01" fill="none" stroke="#cdf3cd" stroke-width="2.8" stroke-linejoin="round"/>
<polyline points="183.9,269.9 186.92,254.11 188.73,252.62 189.94,255 191.75,251.13 193.56,252.02 195.98,241.59 198.4,244.28 201.42,246.66 204.44,247.26 208.06,248.15 211.08,252.62 212.89,248.15 215.91,245.77 218.93,247.26 223.16,249.34 225.58,249.94 230.41,256.2 233.43,257.39 236.45,258.58 240.07,263.65 243.09,269.01" fill="none" stroke="#52d452" stroke-width="1.1" stroke-linejoin="round"/>
<rect x="187.28" y="271" width="1.12" height="9.9" fill="rgb(20,20,20)"/>
<rect x="188.97" y="271" width="1.03" height="9.9" fill="rgb(80,80,80)"/>
<rect x="190.66" y="271" width="1.32" height="9.9" fill="rgb(20,20,20)"/>
<rect x="192.36" y="271" width="1.37" height="9.9" fill="rgb(110,110,110)"/>
<rect x="194.05" y="271" width="1.29" height="9.9" fill="rgb(80,80,80)"/>
<rect x="195.74" y="271" width="1.61" height="9.9" fill="rgb(80,80,80)"/>
<rect x="199.12" y="271" width="1.62" height="9.9" fill="rgb(80,80,80)"/>
<rect x="200.81" y="271" width="1.3" height="9.9" fill="rgb(50,50,50)"/>
<rect x="202.5" y="271" width="0.96" height="9.9" fill="rgb(20,20,20)"/>
<rect x="204.19" y="271" width="1.7" height="9.9" fill="rgb(80,80,80)"/>
<rect x="206.73" y="271" width="1.52" height="9.9" fill="rgb(130,130,130)"/>
<rect x="215.19" y="271" width="0.95" height="9.9" fill="rgb(130,130,130)"/>
<rect x="220.26" y="271" width="1.02" height="9.9" fill="rgb(160,160,160)"/>
<rect x="221.95" y="271" width="1.25" height="9.9" fill="rgb(130,130,130)"/>
<rect x="225.33" y="271" width="1.61" height="9.9" fill="rgb(130,130,130)"/>
<rect x="227.03" y="271" width="1.45" height="9.9" fill="rgb(160,160,160)"/>
<rect x="228.72" y="271" width="1.24" height="9.9" fill="rgb(130,130,130)"/>
<rect x="229.2" y="271" width="1.53" height="9.9" fill="rgb(200,200,200)"/>
<defs><linearGradient id="rs2" x1="0" x2="1"><stop offset="0" stop-color="#e8202a"/><stop offset="0.55" stop-color="#ee4050"/><stop offset="0.68" stop-color="#f4b0c0"/><stop offset="0.75" stop-color="#e8d8f0"/><stop offset="0.82" stop-color="#c8c0f0"/><stop offset="0.86" stop-color="#3a30b0"/><stop offset="0.92" stop-color="#7070d8"/><stop offset="1" stop-color="#d0d0f4"/></linearGradient></defs>
<rect x="183.9" y="281" width="60.4" height="2.4" fill="url(#rs2)"/>
<defs><linearGradient id="gg2" x1="0" x2="1"><stop offset="0" stop-color="#b8b8b8"/><stop offset="0.5" stop-color="#d0d0d0"/><stop offset="1" stop-color="#dedede"/></linearGradient></defs>
<polygon points="183.9,288.8 202.02,290.3 238.26,291.0 244.3,291.2 244.3,295.6 183.9,296" fill="url(#gg2)"/>
<rect x="183.9" y="291.2" width="60.4" height="0.6" fill="#999"/>
<text x="183.7" y="289.5" font-family="Liberation Sans" font-size="6.7" font-weight="bold" fill="#000" style="stroke-width:0.4px">VF- Hmga2</text>
<text x="245.3" y="300.2" font-family="Liberation Sans" font-size="6.7" font-weight="bold" fill="#000" text-anchor="end" style="stroke-width:0.4px">VF- Vector</text>
<rect x="220.3" y="302.6" width="19" height="0.8" fill="#a8a8e6"/>
<rect x="189.9" y="305.8" width="3.5" height="0.9" fill="#999"/>
<rect x="201.54" y="305.8" width="3.5" height="0.9" fill="#999"/>
<rect x="213.19" y="305.8" width="3.5" height="0.9" fill="#999"/>
<rect x="224.83" y="305.8" width="3.5" height="0.9" fill="#999"/>
<rect x="236.48" y="305.8" width="3.5" height="0.9" fill="#999"/>
<rect x="207.1" y="308.2" width="14" height="0.8" fill="#999"/>
<rect x="184.7" y="311.3" width="52" height="3.2" fill="#f8f7f2" stroke="#8a8a8a" stroke-width="0.6"/>
<rect x="187.7" y="312.5" width="20.25" height="0.9" fill="#777"/>
<rect x="214.7" y="312.5" width="18" height="0.9" fill="#777"/>
<text x="290.1" y="228" font-family="Liberation Sans" font-size="7.6" font-weight="bold" fill="#111" text-anchor="middle" style="stroke-width:0.45px">WNT signaling</text>
<text x="290.4" y="323.8" font-family="Liberation Sans" font-size="6.6" fill="#222" text-anchor="middle">NES=1.65 ; FDR=0.09</text>
<rect x="253.7" y="232.0" width="72.1" height="83.0" fill="#eeece2"/>
<rect x="262.2" y="233.3" width="55.1" height="1.3" fill="#666"/>
<rect x="263.9" y="235.5" width="59.5" height="69" fill="#fdfdfb"/>
<rect x="259.3" y="236.5" width="3.2" height="1" fill="#8a8a8a"/>
<rect x="259.3" y="240.74" width="3.2" height="1" fill="#8a8a8a"/>
<rect x="259.3" y="244.99" width="3.2" height="1" fill="#8a8a8a"/>
<rect x="259.3" y="249.23" width="3.2" height="1" fill="#8a8a8a"/>
<rect x="259.3" y="253.47" width="3.2" height="1" fill="#8a8a8a"/>
<rect x="259.3" y="257.71" width="3.2" height="1" fill="#8a8a8a"/>
<rect x="259.3" y="261.96" width="3.2" height="1" fill="#8a8a8a"/>
<rect x="259.3" y="266.2" width="3.2" height="1" fill="#8a8a8a"/>
<rect x="256.7" y="242" width="0.8" height="21.7" fill="#bbb"/>
<rect x="256.7" y="285" width="0.8" height="20" fill="#bbb"/>
<rect x="263.9" y="267.1" width="59.5" height="0.6" fill="#c8c8c8"/>
<polyline points="263.9,258.19 265.69,259.46 266.88,261.68 269.25,264.21 270.44,266.43 272.23,262.31 273.42,260.41 274.01,262.94 275.2,245.51 276.99,238.85 277.58,237.9 279.37,241.39 281.15,245.51 282.34,244.24 283.53,245.51 285.92,248.05 287.7,251.53 288.89,249.63 290.08,252.17 291.27,249.63 293.06,252.8 294.84,250.9 296.62,255.02 297.81,242.66 299,242.02 300.19,244.24 301.38,243.29 303.17,246.78 304.96,245.51 306.15,249.63 309.72,255.02 313.88,258.82 316.26,262.94 318.05,264.85 319.83,261.68 321.62,265.8 322.81,267.7" fill="none" stroke="#cdf3cd" stroke-width="2.8" stroke-linejoin="round"/>
<polyline points="263.9,258.19 265.69,259.46 266.88,261.68 269.25,264.21 270.44,266.43 272.23,262.31 273.42,260.41 274.01,262.94 275.2,245.51 276.99,238.85 277.58,237.9 279.37,241.39 281.15,245.51 282.34,244.24 283.53,245.51 285.92,248.05 287.7,251.53 288.89,249.63 290.08,252.17 291.27,249.63 293.06,252.8 294.84,250.9 296.62,255.02 297.81,242.66 299,242.02 300.19,244.24 301.38,243.29 303.17,246.78 304.96,245.51 306.15,249.63 309.72,255.02 313.88,258.82 316.26,262.94 318.05,264.85 319.83,261.68 321.62,265.8 322.81,267.7" fill="none" stroke="#52d452" stroke-width="1.1" stroke-linejoin="round"/>
<rect x="263.9" y="268.5" width="1.1" height="11.3" fill="rgb(150,150,150)"/>
<rect x="268.06" y="268.5" width="1.1" height="11.3" fill="rgb(150,150,150)"/>
<rect x="271.63" y="268.5" width="1.1" height="11.3" fill="rgb(120,120,120)"/>
<rect x="272.82" y="268.5" width="1.1" height="11.3" fill="rgb(140,140,140)"/>
<rect x="281.15" y="268.5" width="1.1" height="11.3" fill="rgb(150,150,150)"/>
<rect x="287.11" y="268.5" width="1.1" height="11.3" fill="rgb(120,120,120)"/>
<rect x="290.08" y="268.5" width="1.1" height="11.3" fill="rgb(140,140,140)"/>
<rect x="290.68" y="268.5" width="1.1" height="11.3" fill="rgb(130,130,130)"/>
<rect x="294.84" y="268.5" width="1.1" height="11.3" fill="rgb(150,150,150)"/>
<rect x="298.41" y="268.5" width="1.1" height="11.3" fill="rgb(150,150,150)"/>
<rect x="303.76" y="268.5" width="1.1" height="11.3" fill="rgb(140,140,140)"/>
<rect x="318.64" y="268.5" width="1.1" height="11.3" fill="rgb(170,170,170)"/>
<defs><linearGradient id="rs3" x1="0" x2="1"><stop offset="0" stop-color="#e8202a"/><stop offset="0.55" stop-color="#ee4050"/><stop offset="0.68" stop-color="#f4b0c0"/><stop offset="0.75" stop-color="#e8d8f0"/><stop offset="0.82" stop-color="#c8c0f0"/><stop offset="0.86" stop-color="#3a30b0"/><stop offset="0.92" stop-color="#7070d8"/><stop offset="1" stop-color="#d0d0f4"/></linearGradient></defs>
<rect x="263.9" y="280" width="59.5" height="2.4" fill="url(#rs3)"/>
<defs><linearGradient id="gg3" x1="0" x2="1"><stop offset="0" stop-color="#b8b8b8"/><stop offset="0.5" stop-color="#d0d0d0"/><stop offset="1" stop-color="#dedede"/></linearGradient></defs>
<polygon points="263.9,288.8 281.75,290.3 317.45,291.0 323.4,291.2 323.4,295.6 263.9,296" fill="url(#gg3)"/>
<rect x="263.9" y="291.2" width="59.5" height="0.6" fill="#999"/>
<text x="263.2" y="289.5" font-family="Liberation Sans" font-size="6.7" font-weight="bold" fill="#000" style="stroke-width:0.4px">VF- Hmga2</text>
<text x="323.4" y="300.2" font-family="Liberation Sans" font-size="6.7" font-weight="bold" fill="#000" text-anchor="end" style="stroke-width:0.4px">VF- Vector</text>
<rect x="299.4" y="302.6" width="19" height="0.8" fill="#a8a8e6"/>
<rect x="269.9" y="305.8" width="3.5" height="0.9" fill="#999"/>
<rect x="281.34" y="305.8" width="3.5" height="0.9" fill="#999"/>
<rect x="292.79" y="305.8" width="3.5" height="0.9" fill="#999"/>
<rect x="304.23" y="305.8" width="3.5" height="0.9" fill="#999"/>
<rect x="315.68" y="305.8" width="3.5" height="0.9" fill="#999"/>
<rect x="286.65" y="308.2" width="14" height="0.8" fill="#999"/>
<rect x="264.7" y="311.3" width="51.1" height="3.2" fill="#f8f7f2" stroke="#8a8a8a" stroke-width="0.6"/>
<rect x="267.7" y="312.5" width="19.85" height="0.9" fill="#777"/>
<rect x="294.16" y="312.5" width="17.64" height="0.9" fill="#777"/>
<text x="368.7" y="228" font-family="Liberation Sans" font-size="7.6" font-weight="bold" fill="#111" text-anchor="middle" style="stroke-width:0.45px">PI3K-AKT pathway</text>
<text x="367.8" y="323.8" font-family="Liberation Sans" font-size="6.6" fill="#222" text-anchor="middle">NES=2.13; FDR=0.01</text>
<rect x="332.7" y="232.0" width="72.1" height="83.0" fill="#eeece2"/>
<rect x="341.2" y="233.3" width="55.1" height="1.3" fill="#666"/>
<rect x="342.9" y="237.5" width="59.5" height="67" fill="#fdfdfb"/>
<rect x="338.3" y="238.5" width="3.2" height="1" fill="#8a8a8a"/>
<rect x="338.3" y="242.54" width="3.2" height="1" fill="#8a8a8a"/>
<rect x="338.3" y="246.59" width="3.2" height="1" fill="#8a8a8a"/>
<rect x="338.3" y="250.63" width="3.2" height="1" fill="#8a8a8a"/>
<rect x="338.3" y="254.67" width="3.2" height="1" fill="#8a8a8a"/>
<rect x="338.3" y="258.71" width="3.2" height="1" fill="#8a8a8a"/>
<rect x="338.3" y="262.76" width="3.2" height="1" fill="#8a8a8a"/>
<rect x="338.3" y="266.8" width="3.2" height="1" fill="#8a8a8a"/>
<rect x="335.7" y="244" width="0.8" height="20.3" fill="#bbb"/>
<rect x="335.7" y="285" width="0.8" height="20" fill="#bbb"/>
<rect x="342.9" y="267.7" width="59.5" height="0.6" fill="#c8c8c8"/>
<polyline points="342.9,263.45 344.69,264.36 347.06,264.36 348.85,266.18 350.63,267.09 352.42,267.09 353.61,262.85 355.39,256.18 357.77,254.06 358.96,252.85 360.75,252.24 362.53,253.45 364.32,250.73 365.51,248 366.7,246.79 368.49,248.91 370.27,245.27 372.06,246.79 373.84,244.06 375.03,248.91 376.22,244.06 377.41,241.94 379.19,240.12 380.38,239.21 381.58,241.94 383.96,244.67 385.74,241.33 387.53,245.27 391.1,250.73 394.67,254.97 397.64,258.91 401.81,263.45" fill="none" stroke="#cdf3cd" stroke-width="2.8" stroke-linejoin="round"/>
<polyline points="342.9,263.45 344.69,264.36 347.06,264.36 348.85,266.18 350.63,267.09 352.42,267.09 353.61,262.85 355.39,256.18 357.77,254.06 358.96,252.85 360.75,252.24 362.53,253.45 364.32,250.73 365.51,248 366.7,246.79 368.49,248.91 370.27,245.27 372.06,246.79 373.84,244.06 375.03,248.91 376.22,244.06 377.41,241.94 379.19,240.12 380.38,239.21 381.58,241.94 383.96,244.67 385.74,241.33 387.53,245.27 391.1,250.73 394.67,254.97 397.64,258.91 401.81,263.45" fill="none" stroke="#52d452" stroke-width="1.1" stroke-linejoin="round"/>
<rect x="342.9" y="268.5" width="1.1" height="11.5" fill="rgb(150,150,150)"/>
<rect x="348.25" y="268.5" width="1.1" height="11.5" fill="rgb(140,140,140)"/>
<rect x="353.01" y="268.5" width="1.1" height="11.5" fill="rgb(110,110,110)"/>
<rect x="354.8" y="268.5" width="1.1" height="11.5" fill="rgb(120,120,120)"/>
<rect x="356.58" y="268.5" width="1.1" height="11.5" fill="rgb(100,100,100)"/>
<rect x="360.15" y="268.5" width="1.1" height="11.5" fill="rgb(130,130,130)"/>
<rect x="364.32" y="268.5" width="1.1" height="11.5" fill="rgb(110,110,110)"/>
<rect x="368.49" y="268.5" width="1.1" height="11.5" fill="rgb(130,130,130)"/>
<rect x="370.87" y="268.5" width="1.1" height="11.5" fill="rgb(110,110,110)"/>
<rect x="374.44" y="268.5" width="1.1" height="11.5" fill="rgb(120,120,120)"/>
<rect x="376.22" y="268.5" width="1.1" height="11.5" fill="rgb(100,100,100)"/>
<rect x="379.19" y="268.5" width="1.1" height="11.5" fill="rgb(130,130,130)"/>
<rect x="382.17" y="268.5" width="1.1" height="11.5" fill="rgb(150,150,150)"/>
<defs><linearGradient id="rs4" x1="0" x2="1"><stop offset="0" stop-color="#e8202a"/><stop offset="0.55" stop-color="#ee4050"/><stop offset="0.68" stop-color="#f4b0c0"/><stop offset="0.75" stop-color="#e8d8f0"/><stop offset="0.82" stop-color="#c8c0f0"/><stop offset="0.86" stop-color="#3a30b0"/><stop offset="0.92" stop-color="#7070d8"/><stop offset="1" stop-color="#d0d0f4"/></linearGradient></defs>
<rect x="342.9" y="280.3" width="59.5" height="2.4" fill="url(#rs4)"/>
<defs><linearGradient id="gg4" x1="0" x2="1"><stop offset="0" stop-color="#b8b8b8"/><stop offset="0.5" stop-color="#d0d0d0"/><stop offset="1" stop-color="#dedede"/></linearGradient></defs>
<polygon points="342.9,288.8 360.75,290.3 396.45,291.0 402.4,291.2 402.4,295.6 342.9,296" fill="url(#gg4)"/>
<rect x="342.9" y="291.2" width="59.5" height="0.6" fill="#999"/>
<text x="341.7" y="289.5" font-family="Liberation Sans" font-size="6.7" font-weight="bold" fill="#000" style="stroke-width:0.4px">VF- Hmga2</text>
<text x="403.1" y="300.2" font-family="Liberation Sans" font-size="6.7" font-weight="bold" fill="#000" text-anchor="end" style="stroke-width:0.4px">VF- Vector</text>
<rect x="378.4" y="302.6" width="19" height="0.8" fill="#a8a8e6"/>
<rect x="348.9" y="305.8" width="3.5" height="0.9" fill="#999"/>
<rect x="360.34" y="305.8" width="3.5" height="0.9" fill="#999"/>
<rect x="371.79" y="305.8" width="3.5" height="0.9" fill="#999"/>
<rect x="383.23" y="305.8" width="3.5" height="0.9" fill="#999"/>
<rect x="394.68" y="305.8" width="3.5" height="0.9" fill="#999"/>
<rect x="365.65" y="308.2" width="14" height="0.8" fill="#999"/>
<rect x="343.7" y="311.3" width="51.1" height="3.2" fill="#f8f7f2" stroke="#8a8a8a" stroke-width="0.6"/>
<rect x="346.7" y="312.5" width="19.85" height="0.9" fill="#777"/>
<rect x="373.16" y="312.5" width="17.64" height="0.9" fill="#777"/>
<text x="446.6" y="228" font-family="Liberation Sans" font-size="7.6" font-weight="bold" fill="#111" text-anchor="middle" style="stroke-width:0.45px">MAPK signaling</text>
<text x="446.4" y="323.8" font-family="Liberation Sans" font-size="6.6" fill="#222" text-anchor="middle">NES=2.63 ; FDR=0.00</text>
<rect x="409.2" y="232.0" width="72.8" height="83.0" fill="#eeece2"/>
<rect x="417.7" y="233.3" width="55.8" height="1.3" fill="#666"/>
<rect x="419.4" y="235.5" width="60.2" height="69" fill="#fdfdfb"/>
<rect x="414.8" y="236.5" width="3.2" height="1" fill="#8a8a8a"/>
<rect x="414.8" y="240.74" width="3.2" height="1" fill="#8a8a8a"/>
<rect x="414.8" y="244.99" width="3.2" height="1" fill="#8a8a8a"/>
<rect x="414.8" y="249.23" width="3.2" height="1" fill="#8a8a8a"/>
<rect x="414.8" y="253.47" width="3.2" height="1" fill="#8a8a8a"/>
<rect x="414.8" y="257.71" width="3.2" height="1" fill="#8a8a8a"/>
<rect x="414.8" y="261.96" width="3.2" height="1" fill="#8a8a8a"/>
<rect x="414.8" y="266.2" width="3.2" height="1" fill="#8a8a8a"/>
<rect x="412.2" y="242" width="0.8" height="21.7" fill="#bbb"/>
<rect x="412.2" y="285" width="0.8" height="20" fill="#bbb"/>
<rect x="419.4" y="267.1" width="60.2" height="0.6" fill="#c8c8c8"/>
<polyline points="419.4,264.85 420.6,267.07 421.81,265.48 423.61,261.36 424.82,262.94 426.02,260.73 427.23,260.09 429.03,258.19 430.24,254.7 431.44,250.58 432.64,246.46 433.85,244.88 435.65,244.24 436.86,242.97 438.06,239.49 439.27,240.12 441.07,238.85 442.28,238.22 443.48,237.27 444.68,238.22 445.89,237.27 447.69,238.22 448.9,237.27 450.1,238.85 451.31,240.75 453.11,238.85 454.32,238.22 455.52,239.49 456.72,240.75 457.93,242.97 459.73,244.88 460.94,244.24 462.14,243.61 463.35,243.61 465.15,242.34 466.36,243.61 467.56,244.24 468.76,244.88 469.97,246.46 471.77,249 474.18,254.7 477.19,258.82 479.6,263.58" fill="none" stroke="#cdf3cd" stroke-width="2.8" stroke-linejoin="round"/>
<polyline points="419.4,264.85 420.6,267.07 421.81,265.48 423.61,261.36 424.82,262.94 426.02,260.73 427.23,260.09 429.03,258.19 430.24,254.7 431.44,250.58 432.64,246.46 433.85,244.88 435.65,244.24 436.86,242.97 438.06,239.49 439.27,240.12 441.07,238.85 442.28,238.22 443.48,237.27 444.68,238.22 445.89,237.27 447.69,238.22 448.9,237.27 450.1,238.85 451.31,240.75 453.11,238.85 454.32,238.22 455.52,239.49 456.72,240.75 457.93,242.97 459.73,244.88 460.94,244.24 462.14,243.61 463.35,243.61 465.15,242.34 466.36,243.61 467.56,244.24 468.76,244.88 469.97,246.46 471.77,249 474.18,254.7 477.19,258.82 479.6,263.58" fill="none" stroke="#52d452" stroke-width="1.1" stroke-linejoin="round"/>
<rect x="419.4" y="268.7" width="1.52" height="10.8" fill="rgb(80,80,80)"/>
<rect x="422.77" y="268.7" width="0.83" height="10.8" fill="rgb(140,140,140)"/>
<rect x="424.46" y="268.7" width="1.38" height="10.8" fill="rgb(50,50,50)"/>
<rect x="427.83" y="268.7" width="1.58" height="10.8" fill="rgb(110,110,110)"/>
<rect x="429.51" y="268.7" width="1.32" height="10.8" fill="rgb(20,20,20)"/>
<rect x="431.2" y="268.7" width="1.17" height="10.8" fill="rgb(50,50,50)"/>
<rect x="432.88" y="268.7" width="0.94" height="10.8" fill="rgb(110,110,110)"/>
<rect x="434.57" y="268.7" width="1.36" height="10.8" fill="rgb(50,50,50)"/>
<rect x="436.26" y="268.7" width="0.8" height="10.8" fill="rgb(50,50,50)"/>
<rect x="439.63" y="268.7" width="1.66" height="10.8" fill="rgb(50,50,50)"/>
<rect x="441.31" y="268.7" width="1.06" height="10.8" fill="rgb(50,50,50)"/>
<rect x="444.68" y="268.7" width="0.96" height="10.8" fill="rgb(50,50,50)"/>
<rect x="448.06" y="268.7" width="1.07" height="10.8" fill="rgb(110,110,110)"/>
<rect x="449.74" y="268.7" width="1.64" height="10.8" fill="rgb(50,50,50)"/>
<rect x="451.43" y="268.7" width="1.07" height="10.8" fill="rgb(80,80,80)"/>
<rect x="453.11" y="268.7" width="1.34" height="10.8" fill="rgb(20,20,20)"/>
<rect x="454.8" y="268.7" width="1.08" height="10.8" fill="rgb(20,20,20)"/>
<rect x="456.48" y="268.7" width="1.43" height="10.8" fill="rgb(110,110,110)"/>
<rect x="458.17" y="268.7" width="1.43" height="10.8" fill="rgb(110,110,110)"/>
<rect x="459.85" y="268.7" width="1.65" height="10.8" fill="rgb(20,20,20)"/>
<rect x="461.54" y="268.7" width="0.82" height="10.8" fill="rgb(180,180,180)"/>
<rect x="464.91" y="268.7" width="1.21" height="10.8" fill="rgb(150,150,150)"/>
<defs><linearGradient id="rs5" x1="0" x2="1"><stop offset="0" stop-color="#e8202a"/><stop offset="0.55" stop-color="#ee4050"/><stop offset="0.68" stop-color="#f4b0c0"/><stop offset="0.75" stop-color="#e8d8f0"/><stop offset="0.82" stop-color="#c8c0f0"/><stop offset="0.86" stop-color="#3a30b0"/><stop offset="0.92" stop-color="#7070d8"/><stop offset="1" stop-color="#d0d0f4"/></linearGradient></defs>
<rect x="419.4" y="280.2" width="60.2" height="2.4" fill="url(#rs5)"/>
<defs><linearGradient id="gg5" x1="0" x2="1"><stop offset="0" stop-color="#b8b8b8"/><stop offset="0.5" stop-color="#d0d0d0"/><stop offset="1" stop-color="#dedede"/></linearGradient></defs>
<polygon points="419.4,288.8 437.46,290.3 473.58,291.0 479.6,291.2 479.6,295.6 419.4,296" fill="url(#gg5)"/>
<rect x="419.4" y="291.2" width="60.2" height="0.6" fill="#999"/>
<text x="420.2" y="289.5" font-family="Liberation Sans" font-size="6.7" font-weight="bold" fill="#000" style="stroke-width:0.4px">VF- Hmga2</text>
<text x="479.3" y="300.2" font-family="Liberation Sans" font-size="6.7" font-weight="bold" fill="#000" text-anchor="end" style="stroke-width:0.4px">VF- Vector</text>
<rect x="455.6" y="302.6" width="19" height="0.8" fill="#a8a8e6"/>
<rect x="425.4" y="305.8" width="3.5" height="0.9" fill="#999"/>
<rect x="437" y="305.8" width="3.5" height="0.9" fill="#999"/>
<rect x="448.6" y="305.8" width="3.5" height="0.9" fill="#999"/>
<rect x="460.2" y="305.8" width="3.5" height="0.9" fill="#999"/>
<rect x="471.8" y="305.8" width="3.5" height="0.9" fill="#999"/>
<rect x="442.5" y="308.2" width="14" height="0.8" fill="#999"/>
<rect x="420.2" y="311.3" width="51.8" height="3.2" fill="#f8f7f2" stroke="#8a8a8a" stroke-width="0.6"/>
<rect x="423.2" y="312.5" width="20.16" height="0.9" fill="#777"/>
<rect x="450.08" y="312.5" width="17.92" height="0.9" fill="#777"/>
<text x="72.6" y="377.7" font-family="Liberation Sans" font-size="10" font-weight="bold" fill="#111" text-anchor="middle">Cxcl12</text>
<line x1="35.1" y1="441.2" x2="38.3" y2="441.2" stroke="#111" stroke-width="1"/>
<text x="31.9" y="443.8" font-family="Liberation Sans" font-size="7.8" fill="#222" text-anchor="end">0</text>
<line x1="35.1" y1="426.82" x2="38.3" y2="426.82" stroke="#111" stroke-width="1"/>
<text x="31.9" y="429.43" font-family="Liberation Sans" font-size="7.8" fill="#222" text-anchor="end">2</text>
<line x1="35.1" y1="412.45" x2="38.3" y2="412.45" stroke="#111" stroke-width="1"/>
<text x="31.9" y="415.05" font-family="Liberation Sans" font-size="7.8" fill="#222" text-anchor="end">4</text>
<line x1="35.1" y1="398.07" x2="38.3" y2="398.07" stroke="#111" stroke-width="1"/>
<text x="31.9" y="400.68" font-family="Liberation Sans" font-size="7.8" fill="#222" text-anchor="end">6</text>
<line x1="35.1" y1="383.7" x2="38.3" y2="383.7" stroke="#111" stroke-width="1"/>
<text x="31.9" y="386.3" font-family="Liberation Sans" font-size="7.8" fill="#222" text-anchor="end">8</text>
<text x="18.0" y="412.1" font-family="Liberation Sans" font-size="8.4" fill="#222" text-anchor="middle" transform="rotate(-90 18.0 412.1)" dy="3">Fold change</text>
<rect x="47.5" y="433.9" width="16" height="7.3" fill="#aa0429"/>
<line x1="55.5" y1="432.7" x2="55.5" y2="435.6" stroke="#111" stroke-width="1.35"/><line x1="52.5" y1="432.7" x2="58.5" y2="432.7" stroke="#111" stroke-width="1.35"/><line x1="52.5" y1="435.6" x2="58.5" y2="435.6" stroke="#111" stroke-width="1.35"/>
<rect x="82.1" y="399.4" width="15.9" height="41.8" fill="#6aa6dc"/>
<line x1="90.5" y1="389.8" x2="90.5" y2="408.5" stroke="#111" stroke-width="1.35"/><line x1="87.5" y1="389.8" x2="93.5" y2="389.8" stroke="#111" stroke-width="1.35"/><line x1="87.5" y1="408.5" x2="93.5" y2="408.5" stroke="#111" stroke-width="1.35"/>
<line x1="38.3" y1="380.2" x2="38.3" y2="441.2" stroke="#111" stroke-width="1.5"/>
<line x1="37.6" y1="441.2" x2="107.0" y2="441.2" stroke="#111" stroke-width="1.5"/>
<line x1="55.2" y1="390.8" x2="86.9" y2="390.8" stroke="#111" stroke-width="1.3"/>
<text x="70.45" y="391.4" font-family="Liberation Sans" font-size="7.6" fill="#000" text-anchor="middle" style="stroke-width:0.5px">*</text>
<text x="177.2" y="377.7" font-family="Liberation Sans" font-size="10" font-weight="bold" fill="#111" text-anchor="middle">Fzd2</text>
<line x1="139.5" y1="441.2" x2="142.7" y2="441.2" stroke="#111" stroke-width="1"/>
<text x="136.3" y="443.8" font-family="Liberation Sans" font-size="7.8" fill="#222" text-anchor="end">0</text>
<line x1="139.5" y1="426.7" x2="142.7" y2="426.7" stroke="#111" stroke-width="1"/>
<text x="136.3" y="429.3" font-family="Liberation Sans" font-size="7.8" fill="#222" text-anchor="end">1</text>
<line x1="139.5" y1="412.2" x2="142.7" y2="412.2" stroke="#111" stroke-width="1"/>
<text x="136.3" y="414.8" font-family="Liberation Sans" font-size="7.8" fill="#222" text-anchor="end">2</text>
<line x1="139.5" y1="397.7" x2="142.7" y2="397.7" stroke="#111" stroke-width="1"/>
<text x="136.3" y="400.3" font-family="Liberation Sans" font-size="7.8" fill="#222" text-anchor="end">3</text>
<line x1="139.5" y1="383.2" x2="142.7" y2="383.2" stroke="#111" stroke-width="1"/>
<text x="136.3" y="385.8" font-family="Liberation Sans" font-size="7.8" fill="#222" text-anchor="end">4</text>
<text x="122.6" y="412.7" font-family="Liberation Sans" font-size="8.4" fill="#222" text-anchor="middle" transform="rotate(-90 122.6 412.7)" dy="3">Fold change</text>
<rect x="152.0" y="426.3" width="15.8" height="14.9" fill="#aa0429"/>
<line x1="159.5" y1="424.4" x2="159.5" y2="428.4" stroke="#111" stroke-width="1.35"/><line x1="156.5" y1="424.4" x2="162.5" y2="424.4" stroke="#111" stroke-width="1.35"/><line x1="156.5" y1="428.4" x2="162.5" y2="428.4" stroke="#111" stroke-width="1.35"/>
<rect x="186.9" y="398.0" width="15.8" height="43.2" fill="#6aa6dc"/>
<line x1="194.5" y1="388.6" x2="194.5" y2="407" stroke="#111" stroke-width="1.35"/><line x1="191.5" y1="388.6" x2="197.5" y2="388.6" stroke="#111" stroke-width="1.35"/><line x1="191.5" y1="407" x2="197.5" y2="407" stroke="#111" stroke-width="1.35"/>
<line x1="142.7" y1="379.7" x2="142.7" y2="441.2" stroke="#111" stroke-width="1.5"/>
<line x1="142" y1="441.2" x2="211.8" y2="441.2" stroke="#111" stroke-width="1.5"/>
<line x1="157.9" y1="389.2" x2="189.2" y2="389.2" stroke="#111" stroke-width="1.3"/>
<text x="172.95" y="389.8" font-family="Liberation Sans" font-size="7.6" fill="#000" text-anchor="middle" style="stroke-width:0.5px">*</text>
<text x="279.0" y="377.7" font-family="Liberation Sans" font-size="10" font-weight="bold" fill="#111" text-anchor="middle">Col1a1</text>
<line x1="243.6" y1="441.2" x2="246.8" y2="441.2" stroke="#111" stroke-width="1"/>
<text x="240.9" y="443.8" font-family="Liberation Sans" font-size="7.8" fill="#222" text-anchor="end">0</text>
<line x1="243.6" y1="429.7" x2="246.8" y2="429.7" stroke="#111" stroke-width="1"/>
<text x="240.9" y="432.3" font-family="Liberation Sans" font-size="7.8" fill="#222" text-anchor="end">0.5</text>
<line x1="243.6" y1="418.2" x2="246.8" y2="418.2" stroke="#111" stroke-width="1"/>
<text x="240.9" y="420.8" font-family="Liberation Sans" font-size="7.8" fill="#222" text-anchor="end">1</text>
<line x1="243.6" y1="406.7" x2="246.8" y2="406.7" stroke="#111" stroke-width="1"/>
<text x="240.9" y="409.3" font-family="Liberation Sans" font-size="7.8" fill="#222" text-anchor="end">1.5</text>
<line x1="243.6" y1="395.2" x2="246.8" y2="395.2" stroke="#111" stroke-width="1"/>
<text x="240.9" y="397.8" font-family="Liberation Sans" font-size="7.8" fill="#222" text-anchor="end">2</text>
<line x1="243.6" y1="383.7" x2="246.8" y2="383.7" stroke="#111" stroke-width="1"/>
<text x="240.9" y="386.3" font-family="Liberation Sans" font-size="7.8" fill="#222" text-anchor="end">2.5</text>
<text x="220.3" y="408.9" font-family="Liberation Sans" font-size="8.4" fill="#222" text-anchor="middle" transform="rotate(-90 220.3 408.9)" dy="3">Fold change</text>
<rect x="256.0" y="417.5" width="15.3" height="23.7" fill="#aa0429"/>
<line x1="263.5" y1="414.6" x2="263.5" y2="421.3" stroke="#111" stroke-width="1.35"/><line x1="260.5" y1="414.6" x2="266.5" y2="414.6" stroke="#111" stroke-width="1.35"/><line x1="260.5" y1="421.3" x2="266.5" y2="421.3" stroke="#111" stroke-width="1.35"/>
<rect x="288.3" y="397.0" width="14.7" height="44.2" fill="#6aa6dc"/>
<line x1="295.5" y1="390.7" x2="295.5" y2="403.4" stroke="#111" stroke-width="1.35"/><line x1="292.5" y1="390.7" x2="298.5" y2="390.7" stroke="#111" stroke-width="1.35"/><line x1="292.5" y1="403.4" x2="298.5" y2="403.4" stroke="#111" stroke-width="1.35"/>
<line x1="246.8" y1="380.2" x2="246.8" y2="441.2" stroke="#111" stroke-width="1.5"/>
<line x1="246.1" y1="441.2" x2="312.0" y2="441.2" stroke="#111" stroke-width="1.5"/>
<line x1="258.2" y1="391.3" x2="288.7" y2="391.3" stroke="#111" stroke-width="1.3"/>
<text x="272.85" y="391.9" font-family="Liberation Sans" font-size="7.6" fill="#000" text-anchor="middle" style="stroke-width:0.5px">*</text>
<text x="379.1" y="377.7" font-family="Liberation Sans" font-size="10" font-weight="bold" fill="#111" text-anchor="middle">Col3a1</text>
<line x1="341.5" y1="441.2" x2="344.7" y2="441.2" stroke="#111" stroke-width="1"/>
<text x="338.4" y="443.8" font-family="Liberation Sans" font-size="7.8" fill="#222" text-anchor="end">0</text>
<line x1="341.5" y1="426.77" x2="344.7" y2="426.77" stroke="#111" stroke-width="1"/>
<text x="338.4" y="429.38" font-family="Liberation Sans" font-size="7.8" fill="#222" text-anchor="end">1</text>
<line x1="341.5" y1="412.35" x2="344.7" y2="412.35" stroke="#111" stroke-width="1"/>
<text x="338.4" y="414.95" font-family="Liberation Sans" font-size="7.8" fill="#222" text-anchor="end">2</text>
<line x1="341.5" y1="397.93" x2="344.7" y2="397.93" stroke="#111" stroke-width="1"/>
<text x="338.4" y="400.53" font-family="Liberation Sans" font-size="7.8" fill="#222" text-anchor="end">3</text>
<line x1="341.5" y1="383.5" x2="344.7" y2="383.5" stroke="#111" stroke-width="1"/>
<text x="338.4" y="386.1" font-family="Liberation Sans" font-size="7.8" fill="#222" text-anchor="end">4</text>
<text x="324.9" y="412.5" font-family="Liberation Sans" font-size="8.4" fill="#222" text-anchor="middle" transform="rotate(-90 324.9 412.5)" dy="3">Fold change</text>
<rect x="354.4" y="426.6" width="15.9" height="14.6" fill="#aa0429"/>
<line x1="362.5" y1="424.5" x2="362.5" y2="429" stroke="#111" stroke-width="1.35"/><line x1="359.5" y1="424.5" x2="365.5" y2="424.5" stroke="#111" stroke-width="1.35"/><line x1="359.5" y1="429" x2="365.5" y2="429" stroke="#111" stroke-width="1.35"/>
<rect x="389.3" y="404.0" width="15.5" height="37.2" fill="#6aa6dc"/>
<line x1="397.5" y1="399.6" x2="397.5" y2="408.2" stroke="#111" stroke-width="1.35"/><line x1="394.5" y1="399.6" x2="400.5" y2="399.6" stroke="#111" stroke-width="1.35"/><line x1="394.5" y1="408.2" x2="400.5" y2="408.2" stroke="#111" stroke-width="1.35"/>
<line x1="344.7" y1="380" x2="344.7" y2="441.2" stroke="#111" stroke-width="1.5"/>
<line x1="344" y1="441.2" x2="414.6" y2="441.2" stroke="#111" stroke-width="1.5"/>
<line x1="360.3" y1="392.2" x2="392.0" y2="392.2" stroke="#111" stroke-width="1.3"/>
<text x="375.55" y="392.8" font-family="Liberation Sans" font-size="7.6" fill="#000" text-anchor="middle" style="stroke-width:0.5px">*</text>
<text x="477.7" y="377.7" font-family="Liberation Sans" font-size="10" font-weight="bold" fill="#111" text-anchor="middle">Ifi27l2a</text>
<line x1="439.3" y1="441.2" x2="442.5" y2="441.2" stroke="#111" stroke-width="1"/>
<text x="436.4" y="443.8" font-family="Liberation Sans" font-size="7.8" fill="#222" text-anchor="end">0</text>
<line x1="439.3" y1="426.73" x2="442.5" y2="426.73" stroke="#111" stroke-width="1"/>
<text x="436.4" y="429.33" font-family="Liberation Sans" font-size="7.8" fill="#222" text-anchor="end">1</text>
<line x1="439.3" y1="412.25" x2="442.5" y2="412.25" stroke="#111" stroke-width="1"/>
<text x="436.4" y="414.85" font-family="Liberation Sans" font-size="7.8" fill="#222" text-anchor="end">2</text>
<line x1="439.3" y1="397.77" x2="442.5" y2="397.77" stroke="#111" stroke-width="1"/>
<text x="436.4" y="400.38" font-family="Liberation Sans" font-size="7.8" fill="#222" text-anchor="end">3</text>
<line x1="439.3" y1="383.3" x2="442.5" y2="383.3" stroke="#111" stroke-width="1"/>
<text x="436.4" y="385.9" font-family="Liberation Sans" font-size="7.8" fill="#222" text-anchor="end">4</text>
<text x="422.9" y="412.2" font-family="Liberation Sans" font-size="8.4" fill="#222" text-anchor="middle" transform="rotate(-90 422.9 412.2)" dy="3">Fold change</text>
<rect x="451.9" y="426.0" width="15.6" height="15.2" fill="#aa0429"/>
<line x1="459.5" y1="422.4" x2="459.5" y2="430.9" stroke="#111" stroke-width="1.35"/><line x1="456.5" y1="422.4" x2="462.5" y2="422.4" stroke="#111" stroke-width="1.35"/><line x1="456.5" y1="430.9" x2="462.5" y2="430.9" stroke="#111" stroke-width="1.35"/>
<rect x="486.6" y="396.4" width="16.1" height="44.8" fill="#6aa6dc"/>
<line x1="494.5" y1="389.6" x2="494.5" y2="402.3" stroke="#111" stroke-width="1.35"/><line x1="491.5" y1="389.6" x2="497.5" y2="389.6" stroke="#111" stroke-width="1.35"/><line x1="491.5" y1="402.3" x2="497.5" y2="402.3" stroke="#111" stroke-width="1.35"/>
<line x1="442.5" y1="379.8" x2="442.5" y2="441.2" stroke="#111" stroke-width="1.5"/>
<line x1="441.8" y1="441.2" x2="512.6" y2="441.2" stroke="#111" stroke-width="1.5"/>
<line x1="456.0" y1="391.7" x2="486.6" y2="391.7" stroke="#111" stroke-width="1.3"/>
<text x="470.7" y="392.3" font-family="Liberation Sans" font-size="7.6" fill="#000" text-anchor="middle" style="stroke-width:0.5px">*</text>
<text x="70.5" y="461.0" font-family="Liberation Sans" font-size="10" font-weight="bold" fill="#111" text-anchor="middle">Gata3</text>
<line x1="34.7" y1="524.9" x2="37.9" y2="524.9" stroke="#111" stroke-width="1"/>
<text x="32.5" y="527.5" font-family="Liberation Sans" font-size="7.8" fill="#222" text-anchor="end">0</text>
<line x1="34.7" y1="513.3" x2="37.9" y2="513.3" stroke="#111" stroke-width="1"/>
<text x="32.5" y="515.9" font-family="Liberation Sans" font-size="7.8" fill="#222" text-anchor="end">0.5</text>
<line x1="34.7" y1="501.7" x2="37.9" y2="501.7" stroke="#111" stroke-width="1"/>
<text x="32.5" y="504.3" font-family="Liberation Sans" font-size="7.8" fill="#222" text-anchor="end">1</text>
<line x1="34.7" y1="490.1" x2="37.9" y2="490.1" stroke="#111" stroke-width="1"/>
<text x="32.5" y="492.7" font-family="Liberation Sans" font-size="7.8" fill="#222" text-anchor="end">1.5</text>
<line x1="34.7" y1="478.5" x2="37.9" y2="478.5" stroke="#111" stroke-width="1"/>
<text x="32.5" y="481.1" font-family="Liberation Sans" font-size="7.8" fill="#222" text-anchor="end">2</text>
<line x1="34.7" y1="466.9" x2="37.9" y2="466.9" stroke="#111" stroke-width="1"/>
<text x="32.5" y="469.5" font-family="Liberation Sans" font-size="7.8" fill="#222" text-anchor="end">2.5</text>
<text x="11.4" y="496" font-family="Liberation Sans" font-size="8.4" fill="#222" text-anchor="middle" transform="rotate(-90 11.4 496)" dy="3">Fold change</text>
<rect x="46.9" y="501.3" width="15" height="23.6" fill="#aa0429"/>
<line x1="54.5" y1="499.4" x2="54.5" y2="502.8" stroke="#111" stroke-width="1.35"/><line x1="51.5" y1="499.4" x2="57.5" y2="499.4" stroke="#111" stroke-width="1.35"/><line x1="51.5" y1="502.8" x2="57.5" y2="502.8" stroke="#111" stroke-width="1.35"/>
<rect x="79.4" y="480.0" width="14.6" height="44.9" fill="#6aa6dc"/>
<line x1="86.5" y1="474" x2="86.5" y2="486" stroke="#111" stroke-width="1.35"/><line x1="83.5" y1="474" x2="89.5" y2="474" stroke="#111" stroke-width="1.35"/><line x1="83.5" y1="486" x2="89.5" y2="486" stroke="#111" stroke-width="1.35"/>
<line x1="37.9" y1="463.4" x2="37.9" y2="524.9" stroke="#111" stroke-width="1.5"/>
<line x1="37.2" y1="524.9" x2="102.5" y2="524.9" stroke="#111" stroke-width="1.5"/>
<line x1="48.5" y1="475.6" x2="79.7" y2="475.6" stroke="#111" stroke-width="1.3"/>
<text x="63.5" y="476.2" font-family="Liberation Sans" font-size="7.6" fill="#000" text-anchor="middle" style="stroke-width:0.5px">*</text>
<text x="175.0" y="461.0" font-family="Liberation Sans" font-size="10" font-weight="bold" fill="#111" text-anchor="middle">Dok4</text>
<line x1="139.3" y1="524.6" x2="142.5" y2="524.6" stroke="#111" stroke-width="1"/>
<text x="137" y="527.2" font-family="Liberation Sans" font-size="7.8" fill="#222" text-anchor="end">0</text>
<line x1="139.3" y1="513" x2="142.5" y2="513" stroke="#111" stroke-width="1"/>
<text x="137" y="515.6" font-family="Liberation Sans" font-size="7.8" fill="#222" text-anchor="end">0.5</text>
<line x1="139.3" y1="501.4" x2="142.5" y2="501.4" stroke="#111" stroke-width="1"/>
<text x="137" y="504" font-family="Liberation Sans" font-size="7.8" fill="#222" text-anchor="end">1</text>
<line x1="139.3" y1="489.8" x2="142.5" y2="489.8" stroke="#111" stroke-width="1"/>
<text x="137" y="492.4" font-family="Liberation Sans" font-size="7.8" fill="#222" text-anchor="end">1.5</text>
<line x1="139.3" y1="478.2" x2="142.5" y2="478.2" stroke="#111" stroke-width="1"/>
<text x="137" y="480.8" font-family="Liberation Sans" font-size="7.8" fill="#222" text-anchor="end">2</text>
<line x1="139.3" y1="466.6" x2="142.5" y2="466.6" stroke="#111" stroke-width="1"/>
<text x="137" y="469.2" font-family="Liberation Sans" font-size="7.8" fill="#222" text-anchor="end">2.5</text>
<text x="115.7" y="496" font-family="Liberation Sans" font-size="8.4" fill="#222" text-anchor="middle" transform="rotate(-90 115.7 496)" dy="3">Fold change</text>
<rect x="151.1" y="501.0" width="15.3" height="23.6" fill="#aa0429"/>
<line x1="158.5" y1="497.9" x2="158.5" y2="504.2" stroke="#111" stroke-width="1.35"/><line x1="155.5" y1="497.9" x2="161.5" y2="497.9" stroke="#111" stroke-width="1.35"/><line x1="155.5" y1="504.2" x2="161.5" y2="504.2" stroke="#111" stroke-width="1.35"/>
<rect x="183.7" y="483.7" width="14.8" height="40.9" fill="#6aa6dc"/>
<line x1="191.5" y1="479.3" x2="191.5" y2="488.4" stroke="#111" stroke-width="1.35"/><line x1="188.5" y1="479.3" x2="194.5" y2="479.3" stroke="#111" stroke-width="1.35"/><line x1="188.5" y1="488.4" x2="194.5" y2="488.4" stroke="#111" stroke-width="1.35"/>
<line x1="142.5" y1="463.1" x2="142.5" y2="524.6" stroke="#111" stroke-width="1.5"/>
<line x1="141.8" y1="524.6" x2="207.6" y2="524.6" stroke="#111" stroke-width="1.5"/>
<line x1="152.0" y1="479.5" x2="182.9" y2="479.5" stroke="#111" stroke-width="1.3"/>
<text x="166.85" y="480.1" font-family="Liberation Sans" font-size="7.6" fill="#000" text-anchor="middle" style="stroke-width:0.5px">*</text>
<text x="281.5" y="461.0" font-family="Liberation Sans" font-size="10" font-weight="bold" fill="#111" text-anchor="middle">Meis1</text>
<line x1="243.7" y1="524.9" x2="246.9" y2="524.9" stroke="#111" stroke-width="1"/>
<text x="241" y="527.5" font-family="Liberation Sans" font-size="7.8" fill="#222" text-anchor="end">0</text>
<line x1="243.7" y1="505.27" x2="246.9" y2="505.27" stroke="#111" stroke-width="1"/>
<text x="241" y="507.87" font-family="Liberation Sans" font-size="7.8" fill="#222" text-anchor="end">1</text>
<line x1="243.7" y1="485.63" x2="246.9" y2="485.63" stroke="#111" stroke-width="1"/>
<text x="241" y="488.23" font-family="Liberation Sans" font-size="7.8" fill="#222" text-anchor="end">2</text>
<line x1="243.7" y1="466" x2="246.9" y2="466" stroke="#111" stroke-width="1"/>
<text x="241" y="468.6" font-family="Liberation Sans" font-size="7.8" fill="#222" text-anchor="end">3</text>
<text x="227.0" y="495.7" font-family="Liberation Sans" font-size="8.4" fill="#222" text-anchor="middle" transform="rotate(-90 227.0 495.7)" dy="3">Fold change</text>
<rect x="256.2" y="505.3" width="16.1" height="19.6" fill="#aa0429"/>
<line x1="264.5" y1="501.7" x2="264.5" y2="509.5" stroke="#111" stroke-width="1.35"/><line x1="261.5" y1="501.7" x2="267.5" y2="501.7" stroke="#111" stroke-width="1.35"/><line x1="261.5" y1="509.5" x2="267.5" y2="509.5" stroke="#111" stroke-width="1.35"/>
<rect x="291.3" y="484.6" width="16.3" height="40.3" fill="#6aa6dc"/>
<line x1="299.5" y1="478.4" x2="299.5" y2="490.5" stroke="#111" stroke-width="1.35"/><line x1="296.5" y1="478.4" x2="302.5" y2="478.4" stroke="#111" stroke-width="1.35"/><line x1="296.5" y1="490.5" x2="302.5" y2="490.5" stroke="#111" stroke-width="1.35"/>
<line x1="246.9" y1="462.5" x2="246.9" y2="524.9" stroke="#111" stroke-width="1.5"/>
<line x1="246.2" y1="524.9" x2="316.6" y2="524.9" stroke="#111" stroke-width="1.5"/>
<line x1="259.6" y1="477.2" x2="289.6" y2="477.2" stroke="#111" stroke-width="1.3"/>
<text x="274" y="477.8" font-family="Liberation Sans" font-size="7.6" fill="#000" text-anchor="middle" style="stroke-width:0.5px">*</text>
<text x="379.4" y="460.8" font-family="Liberation Sans" font-size="10" font-weight="bold" fill="#111" text-anchor="middle">Tgf-βR2</text>
<line x1="341.5" y1="524.9" x2="344.7" y2="524.9" stroke="#111" stroke-width="1"/>
<text x="339.2" y="527.5" font-family="Liberation Sans" font-size="7.8" fill="#222" text-anchor="end">0</text>
<line x1="341.5" y1="495.45" x2="344.7" y2="495.45" stroke="#111" stroke-width="1"/>
<text x="339.2" y="498.05" font-family="Liberation Sans" font-size="7.8" fill="#222" text-anchor="end">1</text>
<line x1="341.5" y1="466" x2="344.7" y2="466" stroke="#111" stroke-width="1"/>
<text x="339.2" y="468.6" font-family="Liberation Sans" font-size="7.8" fill="#222" text-anchor="end">2</text>
<text x="324.9" y="495.7" font-family="Liberation Sans" font-size="8.4" fill="#222" text-anchor="middle" transform="rotate(-90 324.9 495.7)" dy="3">Fold change</text>
<rect x="354.6" y="495.8" width="15.6" height="29.1" fill="#aa0429"/>
<line x1="362.5" y1="490.5" x2="362.5" y2="499.6" stroke="#111" stroke-width="1.35"/><line x1="359.5" y1="490.5" x2="365.5" y2="490.5" stroke="#111" stroke-width="1.35"/><line x1="359.5" y1="499.6" x2="365.5" y2="499.6" stroke="#111" stroke-width="1.35"/>
<rect x="388.9" y="479.5" width="15.8" height="45.4" fill="#6aa6dc"/>
<line x1="396.5" y1="477.8" x2="396.5" y2="481" stroke="#111" stroke-width="1.35"/><line x1="393.5" y1="477.8" x2="399.5" y2="477.8" stroke="#111" stroke-width="1.35"/><line x1="393.5" y1="481" x2="399.5" y2="481" stroke="#111" stroke-width="1.35"/>
<line x1="344.7" y1="462.5" x2="344.7" y2="524.9" stroke="#111" stroke-width="1.5"/>
<line x1="344" y1="524.9" x2="414.3" y2="524.9" stroke="#111" stroke-width="1.5"/>
<line x1="352.5" y1="477.8" x2="382.5" y2="477.8" stroke="#111" stroke-width="1.3"/>
<text x="366.9" y="478.4" font-family="Liberation Sans" font-size="7.6" fill="#000" text-anchor="middle" style="stroke-width:0.5px">*</text>
<rect x="434.6" y="483.8" width="8.8" height="5.8" fill="#aa0429"/>
<rect x="434.6" y="495.4" width="8.8" height="5.8" fill="#6aa6dc"/>
<text x="446.2" y="489.4" font-family="Liberation Sans" font-size="8" fill="#222">Jak2<tspan font-size="5" dy="-2.8">VF/+</tspan><tspan dy="2.8">- vector</tspan></text>
<text x="446.2" y="500.9" font-family="Liberation Sans" font-size="8" fill="#222">Jak2<tspan font-size="5" dy="-2.8">VF/+</tspan><tspan dy="2.8">- Hmga2</tspan></text>
<text x="138.9" y="553.5" font-family="Liberation Sans" font-size="9.6" font-weight="bold" fill="#111" text-anchor="middle">SET-2</text>
<line x1="34.7" y1="660" x2="37.9" y2="660" stroke="#111" stroke-width="1"/>
<text x="32.2" y="662.9" font-family="Liberation Sans" font-size="8" fill="#222" text-anchor="end">0</text>
<line x1="34.7" y1="634.65" x2="37.9" y2="634.65" stroke="#111" stroke-width="1"/>
<text x="32.2" y="637.55" font-family="Liberation Sans" font-size="8" fill="#222" text-anchor="end">1</text>
<line x1="34.7" y1="609.3" x2="37.9" y2="609.3" stroke="#111" stroke-width="1"/>
<text x="32.2" y="612.2" font-family="Liberation Sans" font-size="8" fill="#222" text-anchor="end">2</text>
<line x1="34.7" y1="583.95" x2="37.9" y2="583.95" stroke="#111" stroke-width="1"/>
<text x="32.2" y="586.85" font-family="Liberation Sans" font-size="8" fill="#222" text-anchor="end">3</text>
<line x1="34.7" y1="558.6" x2="37.9" y2="558.6" stroke="#111" stroke-width="1"/>
<text x="32.2" y="561.5" font-family="Liberation Sans" font-size="8" fill="#222" text-anchor="end">4</text>
<text x="18.1" y="609.5" font-family="Liberation Sans" font-size="8.4" fill="#222" text-anchor="middle" transform="rotate(-90 18.1 609.5)" dy="3">Fold change</text>
<rect x="42" y="634.65" width="10.2" height="25.35" fill="#aa032a"/>
<line x1="47.5" y1="633.89" x2="47.5" y2="635.41" stroke="#111" stroke-width="1.35"/><line x1="44.8" y1="633.89" x2="50.2" y2="633.89" stroke="#111" stroke-width="1.35"/><line x1="44.8" y1="635.41" x2="50.2" y2="635.41" stroke="#111" stroke-width="1.35"/>
<rect x="52.2" y="605.24" width="10.7" height="54.76" fill="#2c4d8b"/>
<line x1="57.5" y1="598.65" x2="57.5" y2="612.09" stroke="#111" stroke-width="1.35"/><line x1="54.8" y1="598.65" x2="60.2" y2="598.65" stroke="#111" stroke-width="1.35"/><line x1="54.8" y1="612.09" x2="60.2" y2="612.09" stroke="#111" stroke-width="1.35"/>
<text x="57.55" y="597.72" font-family="Liberation Sans" font-size="8" fill="#000" text-anchor="middle" style="stroke-width:0.4px">*</text>
<text x="52.02" y="673.3" font-family="Liberation Sans" font-size="7.9" fill="#222" text-anchor="middle">CXCL12</text>
<line x1="66.73" y1="660.0" x2="66.73" y2="662.5" stroke="#111" stroke-width="1"/>
<rect x="70.83" y="634.65" width="10.2" height="25.35" fill="#aa032a"/>
<line x1="75.5" y1="633.89" x2="75.5" y2="635.41" stroke="#111" stroke-width="1.35"/><line x1="72.8" y1="633.89" x2="78.2" y2="633.89" stroke="#111" stroke-width="1.35"/><line x1="72.8" y1="635.41" x2="78.2" y2="635.41" stroke="#111" stroke-width="1.35"/>
<rect x="81.03" y="608.03" width="10.7" height="51.97" fill="#2c4d8b"/>
<line x1="86.5" y1="599.41" x2="86.5" y2="616.14" stroke="#111" stroke-width="1.35"/><line x1="83.8" y1="599.41" x2="89.2" y2="599.41" stroke="#111" stroke-width="1.35"/><line x1="83.8" y1="616.14" x2="89.2" y2="616.14" stroke="#111" stroke-width="1.35"/>
<text x="86.38" y="598.23" font-family="Liberation Sans" font-size="8" fill="#000" text-anchor="middle" style="stroke-width:0.4px">*</text>
<text x="80.84" y="673.3" font-family="Liberation Sans" font-size="7.9" fill="#222" text-anchor="middle">FZD2</text>
<line x1="95.56" y1="660.0" x2="95.56" y2="662.5" stroke="#111" stroke-width="1"/>
<rect x="99.66" y="635.41" width="10.2" height="24.59" fill="#aa032a"/>
<line x1="104.5" y1="632.62" x2="104.5" y2="637.69" stroke="#111" stroke-width="1.35"/><line x1="101.8" y1="632.62" x2="107.2" y2="632.62" stroke="#111" stroke-width="1.35"/><line x1="101.8" y1="637.69" x2="107.2" y2="637.69" stroke="#111" stroke-width="1.35"/>
<rect x="109.86" y="621.21" width="10.7" height="38.79" fill="#2c4d8b"/>
<line x1="115.5" y1="618.93" x2="115.5" y2="624" stroke="#111" stroke-width="1.35"/><line x1="112.8" y1="618.93" x2="118.2" y2="618.93" stroke="#111" stroke-width="1.35"/><line x1="112.8" y1="624" x2="118.2" y2="624" stroke="#111" stroke-width="1.35"/>
<text x="115.21" y="617.75" font-family="Liberation Sans" font-size="8" fill="#000" text-anchor="middle" style="stroke-width:0.4px">*</text>
<text x="109.77" y="673.3" font-family="Liberation Sans" font-size="7.9" fill="#222" text-anchor="middle">IFI27</text>
<line x1="124.39" y1="660.0" x2="124.39" y2="662.5" stroke="#111" stroke-width="1"/>
<rect x="128.49" y="634.65" width="10.2" height="25.35" fill="#aa032a"/>
<line x1="133.5" y1="631.61" x2="133.5" y2="637.18" stroke="#111" stroke-width="1.35"/><line x1="130.8" y1="631.61" x2="136.2" y2="631.61" stroke="#111" stroke-width="1.35"/><line x1="130.8" y1="637.18" x2="136.2" y2="637.18" stroke="#111" stroke-width="1.35"/>
<rect x="138.69" y="592.32" width="10.7" height="67.68" fill="#2c4d8b"/>
<line x1="144.5" y1="581.67" x2="144.5" y2="602.46" stroke="#111" stroke-width="1.35"/><line x1="141.8" y1="581.67" x2="147.2" y2="581.67" stroke="#111" stroke-width="1.35"/><line x1="141.8" y1="602.46" x2="147.2" y2="602.46" stroke="#111" stroke-width="1.35"/>
<text x="144.04" y="581.25" font-family="Liberation Sans" font-size="8" fill="#000" text-anchor="middle" style="stroke-width:0.4px">*</text>
<text x="138.6" y="673.3" font-family="Liberation Sans" font-size="7.9" fill="#222" text-anchor="middle">GATA3</text>
<line x1="153.22" y1="660.0" x2="153.22" y2="662.5" stroke="#111" stroke-width="1"/>
<rect x="157.32" y="634.65" width="10.2" height="25.35" fill="#aa032a"/>
<line x1="162.5" y1="630.85" x2="162.5" y2="637.95" stroke="#111" stroke-width="1.35"/><line x1="159.8" y1="630.85" x2="165.2" y2="630.85" stroke="#111" stroke-width="1.35"/><line x1="159.8" y1="637.95" x2="165.2" y2="637.95" stroke="#111" stroke-width="1.35"/>
<rect x="167.52" y="620.2" width="10.7" height="39.8" fill="#2c4d8b"/>
<line x1="172.5" y1="616.4" x2="172.5" y2="623.75" stroke="#111" stroke-width="1.35"/><line x1="169.8" y1="616.4" x2="175.2" y2="616.4" stroke="#111" stroke-width="1.35"/><line x1="169.8" y1="623.75" x2="175.2" y2="623.75" stroke="#111" stroke-width="1.35"/>
<text x="172.87" y="615.21" font-family="Liberation Sans" font-size="8" fill="#000" text-anchor="middle" style="stroke-width:0.4px">*</text>
<text x="167.33" y="673.3" font-family="Liberation Sans" font-size="7.9" fill="#222" text-anchor="middle">DOK4</text>
<line x1="182.05" y1="660.0" x2="182.05" y2="662.5" stroke="#111" stroke-width="1"/>
<rect x="186.15" y="634.14" width="10.2" height="25.86" fill="#aa032a"/>
<line x1="191.5" y1="630.59" x2="191.5" y2="637.69" stroke="#111" stroke-width="1.35"/><line x1="188.8" y1="630.59" x2="194.2" y2="630.59" stroke="#111" stroke-width="1.35"/><line x1="188.8" y1="637.69" x2="194.2" y2="637.69" stroke="#111" stroke-width="1.35"/>
<rect x="196.35" y="618.93" width="10.7" height="41.07" fill="#2c4d8b"/>
<line x1="201.5" y1="613.61" x2="201.5" y2="623.24" stroke="#111" stroke-width="1.35"/><line x1="198.8" y1="613.61" x2="204.2" y2="613.61" stroke="#111" stroke-width="1.35"/><line x1="198.8" y1="623.24" x2="204.2" y2="623.24" stroke="#111" stroke-width="1.35"/>
<text x="201.7" y="612.93" font-family="Liberation Sans" font-size="8" fill="#000" text-anchor="middle" style="stroke-width:0.4px">*</text>
<text x="194.26" y="673.3" font-family="Liberation Sans" font-size="7.9" fill="#222" text-anchor="middle">MEIS1</text>
<line x1="210.88" y1="660.0" x2="210.88" y2="662.5" stroke="#111" stroke-width="1"/>
<rect x="214.98" y="634.65" width="10.2" height="25.35" fill="#aa032a"/>
<line x1="220.5" y1="632.12" x2="220.5" y2="637.18" stroke="#111" stroke-width="1.35"/><line x1="217.8" y1="632.12" x2="223.2" y2="632.12" stroke="#111" stroke-width="1.35"/><line x1="217.8" y1="637.18" x2="223.2" y2="637.18" stroke="#111" stroke-width="1.35"/>
<rect x="225.18" y="610.57" width="10.7" height="49.43" fill="#2c4d8b"/>
<line x1="230.5" y1="603.72" x2="230.5" y2="616.4" stroke="#111" stroke-width="1.35"/><line x1="227.8" y1="603.72" x2="233.2" y2="603.72" stroke="#111" stroke-width="1.35"/><line x1="227.8" y1="616.4" x2="233.2" y2="616.4" stroke="#111" stroke-width="1.35"/>
<text x="230.53" y="603.3" font-family="Liberation Sans" font-size="8" fill="#000" text-anchor="middle" style="stroke-width:0.4px">*</text>
<text x="227.39" y="673.3" font-family="Liberation Sans" font-size="7.9" fill="#222" text-anchor="middle">TGF-βR2</text>
<line x1="239.71" y1="660.0" x2="239.71" y2="662.5" stroke="#111" stroke-width="1"/>
<line x1="37.9" y1="555.6" x2="37.9" y2="662.5" stroke="#111" stroke-width="1.5"/>
<line x1="37.9" y1="660.0" x2="241.7" y2="660.0" stroke="#111" stroke-width="1.5"/>
<rect x="113.9" y="565" width="4.7" height="4.8" fill="#aa032a"/>
<text x="121.4" y="570.2" font-family="Liberation Sans" font-size="7.9" fill="#222">Vector</text>
<rect x="161.9" y="565" width="4.5" height="4.8" fill="#2c4d8b"/>
<text x="169.3" y="570.2" font-family="Liberation Sans" font-size="7.9" fill="#222">HMGA2</text>
<text x="389.4" y="553.5" font-family="Liberation Sans" font-size="9.6" font-weight="bold" fill="#111" text-anchor="middle">SET-2</text>
<line x1="284.4" y1="660" x2="287.6" y2="660" stroke="#111" stroke-width="1"/>
<text x="281.8" y="662.9" font-family="Liberation Sans" font-size="8" fill="#222" text-anchor="end">0</text>
<line x1="284.4" y1="626.2" x2="287.6" y2="626.2" stroke="#111" stroke-width="1"/>
<text x="281.8" y="629.1" font-family="Liberation Sans" font-size="8" fill="#222" text-anchor="end">0.5</text>
<line x1="284.4" y1="592.4" x2="287.6" y2="592.4" stroke="#111" stroke-width="1"/>
<text x="281.8" y="595.3" font-family="Liberation Sans" font-size="8" fill="#222" text-anchor="end">1</text>
<line x1="284.4" y1="558.6" x2="287.6" y2="558.6" stroke="#111" stroke-width="1"/>
<text x="281.8" y="561.5" font-family="Liberation Sans" font-size="8" fill="#222" text-anchor="end">1.5</text>
<text x="261.8" y="609.3" font-family="Liberation Sans" font-size="8.4" fill="#222" text-anchor="middle" transform="rotate(-90 261.8 609.3)" dy="3">Fold change</text>
<rect x="292" y="592.4" width="10.2" height="67.6" fill="#aa032a"/>
<line x1="297.5" y1="588.34" x2="297.5" y2="596.12" stroke="#111" stroke-width="1.35"/><line x1="294.8" y1="588.34" x2="300.2" y2="588.34" stroke="#111" stroke-width="1.35"/><line x1="294.8" y1="596.12" x2="300.2" y2="596.12" stroke="#111" stroke-width="1.35"/>
<rect x="302.2" y="643.1" width="10.5" height="16.9" fill="#2c4d8b"/>
<line x1="307.5" y1="636.34" x2="307.5" y2="649.18" stroke="#111" stroke-width="1.35"/><line x1="304.8" y1="636.34" x2="310.2" y2="636.34" stroke="#111" stroke-width="1.35"/><line x1="304.8" y1="649.18" x2="310.2" y2="649.18" stroke="#111" stroke-width="1.35"/>
<text x="307.45" y="635.87" font-family="Liberation Sans" font-size="7.6" fill="#000" text-anchor="middle" style="stroke-width:0.35px;letter-spacing:0.3px">**</text>
<text x="302.34" y="673.3" font-family="Liberation Sans" font-size="7.9" fill="#222" text-anchor="middle">CXCL12</text>
<line x1="316.47" y1="660.0" x2="316.47" y2="662.5" stroke="#111" stroke-width="1"/>
<rect x="320.87" y="591.05" width="10.2" height="68.95" fill="#aa032a"/>
<line x1="325.5" y1="582.26" x2="325.5" y2="599.16" stroke="#111" stroke-width="1.35"/><line x1="322.8" y1="582.26" x2="328.2" y2="582.26" stroke="#111" stroke-width="1.35"/><line x1="322.8" y1="599.16" x2="328.2" y2="599.16" stroke="#111" stroke-width="1.35"/>
<rect x="331.07" y="629.58" width="10.5" height="30.42" fill="#2c4d8b"/>
<line x1="336.5" y1="625.52" x2="336.5" y2="631.61" stroke="#111" stroke-width="1.35"/><line x1="333.8" y1="625.52" x2="339.2" y2="625.52" stroke="#111" stroke-width="1.35"/><line x1="333.8" y1="631.61" x2="339.2" y2="631.61" stroke="#111" stroke-width="1.35"/>
<text x="336.32" y="625.39" font-family="Liberation Sans" font-size="7.6" fill="#000" text-anchor="middle" style="stroke-width:0.35px;letter-spacing:0.3px">**</text>
<text x="331.21" y="673.3" font-family="Liberation Sans" font-size="7.9" fill="#222" text-anchor="middle">FZD2</text>
<line x1="345.34" y1="660.0" x2="345.34" y2="662.5" stroke="#111" stroke-width="1"/>
<rect x="349.74" y="592.4" width="10.2" height="67.6" fill="#aa032a"/>
<line x1="354.5" y1="590.37" x2="354.5" y2="594.43" stroke="#111" stroke-width="1.35"/><line x1="351.8" y1="590.37" x2="357.2" y2="590.37" stroke="#111" stroke-width="1.35"/><line x1="351.8" y1="594.43" x2="357.2" y2="594.43" stroke="#111" stroke-width="1.35"/>
<rect x="359.94" y="609.3" width="10.5" height="50.7" fill="#2c4d8b"/>
<line x1="365.5" y1="604.84" x2="365.5" y2="614.03" stroke="#111" stroke-width="1.35"/><line x1="362.8" y1="604.84" x2="368.2" y2="604.84" stroke="#111" stroke-width="1.35"/><line x1="362.8" y1="614.03" x2="368.2" y2="614.03" stroke="#111" stroke-width="1.35"/>
<text x="365.19" y="604.74" font-family="Liberation Sans" font-size="8" fill="#000" text-anchor="middle" style="stroke-width:0.4px">*</text>
<text x="359.58" y="673.3" font-family="Liberation Sans" font-size="7.9" fill="#222" text-anchor="middle">IFI27</text>
<line x1="374.21" y1="660.0" x2="374.21" y2="662.5" stroke="#111" stroke-width="1"/>
<rect x="378.61" y="592.4" width="10.2" height="67.6" fill="#aa032a"/>
<line x1="383.5" y1="585.64" x2="383.5" y2="599.16" stroke="#111" stroke-width="1.35"/><line x1="380.8" y1="585.64" x2="386.2" y2="585.64" stroke="#111" stroke-width="1.35"/><line x1="380.8" y1="599.16" x2="386.2" y2="599.16" stroke="#111" stroke-width="1.35"/>
<rect x="388.81" y="612" width="10.5" height="48" fill="#2c4d8b"/>
<line x1="394.5" y1="608.62" x2="394.5" y2="615.38" stroke="#111" stroke-width="1.35"/><line x1="391.8" y1="608.62" x2="397.2" y2="608.62" stroke="#111" stroke-width="1.35"/><line x1="391.8" y1="615.38" x2="397.2" y2="615.38" stroke="#111" stroke-width="1.35"/>
<text x="394.06" y="608.79" font-family="Liberation Sans" font-size="8" fill="#000" text-anchor="middle" style="stroke-width:0.4px">*</text>
<text x="388.65" y="673.3" font-family="Liberation Sans" font-size="7.9" fill="#222" text-anchor="middle">GATA3</text>
<line x1="403.08" y1="660.0" x2="403.08" y2="662.5" stroke="#111" stroke-width="1"/>
<rect x="407.48" y="592.4" width="10.2" height="67.6" fill="#aa032a"/>
<line x1="412.5" y1="585.17" x2="412.5" y2="598.48" stroke="#111" stroke-width="1.35"/><line x1="409.8" y1="585.17" x2="415.2" y2="585.17" stroke="#111" stroke-width="1.35"/><line x1="409.8" y1="598.48" x2="415.2" y2="598.48" stroke="#111" stroke-width="1.35"/>
<rect x="417.68" y="623.5" width="10.5" height="36.5" fill="#2c4d8b"/>
<line x1="422.5" y1="619.78" x2="422.5" y2="626.2" stroke="#111" stroke-width="1.35"/><line x1="419.8" y1="619.78" x2="425.2" y2="619.78" stroke="#111" stroke-width="1.35"/><line x1="419.8" y1="626.2" x2="425.2" y2="626.2" stroke="#111" stroke-width="1.35"/>
<text x="422.93" y="619.98" font-family="Liberation Sans" font-size="7.6" fill="#000" text-anchor="middle" style="stroke-width:0.35px;letter-spacing:0.3px">**</text>
<text x="416.92" y="673.3" font-family="Liberation Sans" font-size="7.9" fill="#222" text-anchor="middle">DOK4</text>
<line x1="431.95" y1="660.0" x2="431.95" y2="662.5" stroke="#111" stroke-width="1"/>
<rect x="436.35" y="592.4" width="10.2" height="67.6" fill="#aa032a"/>
<line x1="441.5" y1="591.72" x2="441.5" y2="593.08" stroke="#111" stroke-width="1.35"/><line x1="438.8" y1="591.72" x2="444.2" y2="591.72" stroke="#111" stroke-width="1.35"/><line x1="438.8" y1="593.08" x2="444.2" y2="593.08" stroke="#111" stroke-width="1.35"/>
<rect x="446.55" y="637.69" width="10.5" height="22.31" fill="#2c4d8b"/>
<line x1="451.5" y1="630.26" x2="451.5" y2="644.79" stroke="#111" stroke-width="1.35"/><line x1="448.8" y1="630.26" x2="454.2" y2="630.26" stroke="#111" stroke-width="1.35"/><line x1="448.8" y1="644.79" x2="454.2" y2="644.79" stroke="#111" stroke-width="1.35"/>
<text x="451.8" y="629.75" font-family="Liberation Sans" font-size="8" fill="#000" text-anchor="middle" style="stroke-width:0.4px">*</text>
<text x="445.29" y="673.3" font-family="Liberation Sans" font-size="7.9" fill="#222" text-anchor="middle">MEIS1</text>
<line x1="460.82" y1="660.0" x2="460.82" y2="662.5" stroke="#111" stroke-width="1"/>
<rect x="465.22" y="592.4" width="10.2" height="67.6" fill="#aa032a"/>
<line x1="470.5" y1="591.39" x2="470.5" y2="593.41" stroke="#111" stroke-width="1.35"/><line x1="467.8" y1="591.39" x2="473.2" y2="591.39" stroke="#111" stroke-width="1.35"/><line x1="467.8" y1="593.41" x2="473.2" y2="593.41" stroke="#111" stroke-width="1.35"/>
<rect x="475.42" y="615.72" width="10.5" height="44.28" fill="#2c4d8b"/>
<line x1="480.5" y1="610.65" x2="480.5" y2="620.39" stroke="#111" stroke-width="1.35"/><line x1="477.8" y1="610.65" x2="483.2" y2="610.65" stroke="#111" stroke-width="1.35"/><line x1="477.8" y1="620.39" x2="483.2" y2="620.39" stroke="#111" stroke-width="1.35"/>
<text x="480.67" y="609.47" font-family="Liberation Sans" font-size="8" fill="#000" text-anchor="middle" style="stroke-width:0.4px">*</text>
<text x="478.76" y="673.3" font-family="Liberation Sans" font-size="7.9" fill="#222" text-anchor="middle">TGF-βR2</text>
<line x1="489.69" y1="660.0" x2="489.69" y2="662.5" stroke="#111" stroke-width="1"/>
<line x1="287.6" y1="555.6" x2="287.6" y2="662.5" stroke="#111" stroke-width="1.5"/>
<line x1="287.6" y1="660.0" x2="492.0" y2="660.0" stroke="#111" stroke-width="1.5"/>
<rect x="325.8" y="565" width="4.7" height="4.8" fill="#aa032a"/>
<text x="333.0" y="570.2" font-family="Liberation Sans" font-size="7.9" fill="#222">Scramble</text>
<rect x="380.5" y="565" width="4.5" height="4.8" fill="#2c4d8b"/>
<text x="387.9" y="570.2" font-family="Liberation Sans" font-size="7.9" fill="#222">HMGA2 KD</text>
</svg>
</body></html>
